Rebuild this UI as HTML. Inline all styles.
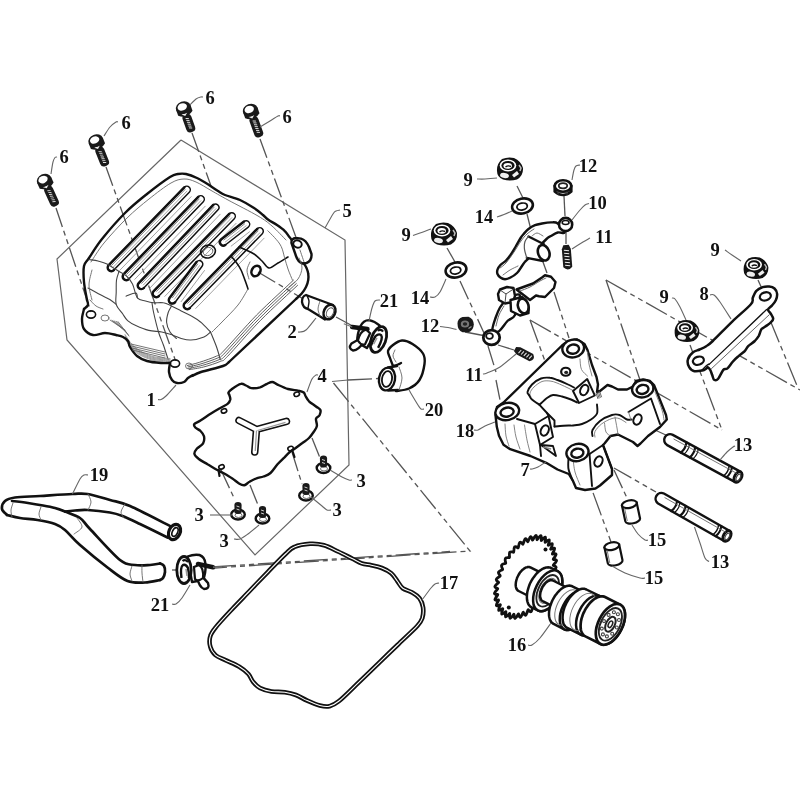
<!DOCTYPE html>
<html><head><meta charset="utf-8"><style>
*{margin:0;padding:0}
body{background:#fff;width:800px;height:800px;overflow:hidden}
svg{display:block}
.k{fill:none;stroke:#111;stroke-width:1.6;stroke-linejoin:round;stroke-linecap:round}
.kt{fill:none;stroke:#111;stroke-width:2.4;stroke-linejoin:round;stroke-linecap:round}
.kf{fill:#fff;stroke:#111;stroke-width:2.2;stroke-linejoin:round}
.kw{fill:#fff;stroke:#333;stroke-width:1}
.fin{fill:#fff;stroke:#111;stroke-width:1.5;stroke-linejoin:round}
.th{stroke:#111;stroke-width:1.3}
.g{fill:none;stroke:#666;stroke-width:0.9;stroke-linecap:round}
.hx{fill:none;stroke:#666;stroke-width:1.2}
.d{fill:none;stroke:#555;stroke-width:1.3;stroke-dasharray:20 4 5 4 5 4}
.dd{fill:none;stroke:#555;stroke-width:1.3;stroke-dasharray:24 4 5 4 5 4}
.ld{fill:none;stroke:#666;stroke-width:1.1}
svg{will-change:transform}
text{font-family:"Liberation Serif",serif;font-size:18.5px;font-weight:bold;fill:#111;text-anchor:middle}
</style></head>
<body><svg width="800" height="800" viewBox="0 0 800 800">
<rect width="800" height="800" fill="#fff"/>
<path class="hx" d="M181.0,140.0 L345.0,240.0 L349.0,465.0 L255.0,555.0 L67.0,340.0 L57.0,259.0 L181.0,140.0" />
<line class="d" x1="56" y1="208" x2="91" y2="312"/>
<line class="d" x1="106" y1="167" x2="176" y2="362"/>
<line class="d" x1="192" y1="133" x2="211" y2="186"/>
<line class="d" x1="260" y1="139" x2="297" y2="240"/>
<line class="d" x1="258" y1="272" x2="305" y2="300"/>
<line class="d" x1="336" y1="317" x2="360" y2="330"/>
<path class="hx" d="M332,381.5 L348,380" />
<line class="dd" x1="348" y1="380" x2="378" y2="378.5"/>
<path class="dd" d="M333.5,383 L470,551 L215,568" />
<line class="d" x1="221" y1="470" x2="235" y2="500"/>
<line class="d" x1="250" y1="485" x2="258" y2="505"/>
<line class="d" x1="292" y1="452" x2="302" y2="484"/>
<line class="d" x1="312" y1="438" x2="320" y2="458"/>
<path class="dd" d="M530,320 L722,430" />
<path class="dd" d="M530,320 L611,542" />
<path class="dd" d="M606,280 L800,390" />
<path class="dd" d="M606,280 L640,380" />
<path class="dd" d="M690,345 L722,430" />
<path class="dd" d="M770,320 L798,388" />
<line class="d" x1="758" y1="280" x2="763" y2="291"/>
<line class="d" x1="460" y1="281" x2="484" y2="333"/>
<line class="d" x1="465" y1="332" x2="486" y2="336"/>
<line class="d" x1="488" y1="346" x2="496" y2="372"/>
<line class="d" x1="496" y1="380" x2="500" y2="400"/>
<line class="d" x1="517" y1="186" x2="523" y2="198"/>
<line class="d" x1="527" y1="214" x2="531" y2="230"/>
<line class="d" x1="564" y1="196" x2="565" y2="216"/>
<line class="d" x1="566" y1="228" x2="566" y2="244"/>
<line class="d" x1="554" y1="292" x2="569" y2="338"/>
<line class="d" x1="543" y1="262" x2="547" y2="273"/>
<line class="d" x1="447" y1="248" x2="455" y2="262"/>
<line class="d" x1="498" y1="345" x2="514" y2="350"/>
<line class="d" x1="614" y1="468" x2="656" y2="492"/>
<line class="d" x1="614" y1="470" x2="627" y2="498"/>
<line class="d" x1="655" y1="430" x2="668" y2="436"/>
<line class="d" x1="172" y1="570" x2="182" y2="570"/>
<path class="dd" d="M212,567 L450,551.5" />
<path class="g" d="M91.0,262.0 C93.2,258.8 98.0,250.3 104.0,243.0 C110.0,235.7 119.5,225.3 127.0,218.0 C134.5,210.7 141.7,204.8 149.0,199.0 C156.3,193.2 165.2,186.3 171.0,183.0 C176.8,179.7 179.8,179.2 184.0,179.0 C188.2,178.8 191.3,180.0 196.0,182.0 C200.7,184.0 206.7,188.0 212.0,191.0 C217.3,194.0 220.3,195.8 228.0,200.0 C235.7,204.2 250.7,211.7 258.0,216.0 C265.3,220.3 267.3,222.0 272.0,226.0 C276.7,230.0 283.7,237.7 286.0,240.0" />
<path class="fin" d="M108.7,265.2 L184.3,187.3 A3.5,3.5 0 0 1 189.3,192.2 L113.8,270.1 A3.5,3.5 0 0 1 108.7,265.2 Z" />
<path class="kt" d="M113.8,270.1 A3.5,3.5 0 0 1 108.7,265.2 L184.3,187.3" style="stroke-width:2.5"/>
<path class="g" d="M111.7,265.3 L185.1,189.5" style="stroke:#777"/>
<path class="g" d="M113.4,267.0 L186.9,191.2" style="stroke:#999"/>
<path class="g" d="M119.8,270.3 L191.1,196.7" style="stroke:#999"/>
<path class="fin" d="M123.7,274.2 L198.3,196.8 A3.5,3.5 0 0 1 203.3,201.7 L128.8,279.1 A3.5,3.5 0 0 1 123.7,274.2 Z" />
<path class="kt" d="M128.8,279.1 A3.5,3.5 0 0 1 123.7,274.2 L198.3,196.8" style="stroke-width:2.5"/>
<path class="g" d="M126.7,274.3 L199.2,199.0" style="stroke:#777"/>
<path class="g" d="M128.4,275.9 L200.9,200.7" style="stroke:#999"/>
<path class="g" d="M134.8,279.3 L205.2,206.2" style="stroke:#999"/>
<path class="fin" d="M138.7,283.2 L213.3,204.8 A3.5,3.5 0 0 1 218.3,209.6 L143.8,288.0 A3.5,3.5 0 0 1 138.7,283.2 Z" />
<path class="kt" d="M143.8,288.0 A3.5,3.5 0 0 1 138.7,283.2 L213.3,204.8" style="stroke-width:2.5"/>
<path class="g" d="M141.7,283.3 L214.2,207.1" style="stroke:#777"/>
<path class="g" d="M143.4,284.9 L215.9,208.7" style="stroke:#999"/>
<path class="g" d="M149.8,288.2 L220.2,214.2" style="stroke:#999"/>
<path class="fin" d="M153.7,291.2 L229.3,213.8 A3.5,3.5 0 0 1 234.3,218.7 L158.8,296.1 A3.5,3.5 0 0 1 153.7,291.2 Z" />
<path class="kt" d="M158.8,296.1 A3.5,3.5 0 0 1 153.7,291.2 L229.3,213.8" style="stroke-width:2.5"/>
<path class="g" d="M156.7,291.3 L230.1,216.0" style="stroke:#777"/>
<path class="g" d="M158.4,293.0 L231.8,217.7" style="stroke:#999"/>
<path class="g" d="M164.8,296.4 L236.1,223.3" style="stroke:#999"/>
<path class="fin" d="M221.0,239.5 L244.0,221.5 A3.5,3.5 0 0 1 248.3,227.1 L225.3,245.0 A3.5,3.5 0 0 1 221.0,239.5 Z" />
<path class="kt" d="M225.3,245.0 A3.5,3.5 0 0 1 221.0,239.5 L244.0,221.5" style="stroke-width:2.5"/>
<path class="g" d="M223.9,240.0 L244.6,223.9" style="stroke:#777"/>
<path class="g" d="M225.4,241.9 L246.1,225.8" style="stroke:#999"/>
<path class="g" d="M231.2,246.1 L249.5,231.8" style="stroke:#999"/>
<path class="fin" d="M169.5,298.0 L196.5,262.0 A3.5,3.5 0 0 1 202.1,266.2 L175.1,302.2 A3.5,3.5 0 0 1 169.5,298.0 Z" />
<path class="kt" d="M175.1,302.2 A3.5,3.5 0 0 1 169.5,298.0 L196.5,262.0" style="stroke-width:2.5"/>
<path class="g" d="M172.5,297.7 L197.7,264.1" style="stroke:#777"/>
<path class="g" d="M174.4,299.2 L199.6,265.6" style="stroke:#999"/>
<path class="g" d="M181.1,301.7 L204.5,270.5" style="stroke:#999"/>
<path class="fin" d="M184.7,303.2 L257.3,228.8 A3.5,3.5 0 0 1 262.3,233.7 L189.8,308.1 A3.5,3.5 0 0 1 184.7,303.2 Z" />
<path class="kt" d="M189.8,308.1 A3.5,3.5 0 0 1 184.7,303.2 L257.3,228.8" style="stroke-width:2.5"/>
<path class="g" d="M187.7,303.3 L258.1,231.0" style="stroke:#777"/>
<path class="g" d="M189.4,305.0 L259.9,232.7" style="stroke:#999"/>
<path class="g" d="M195.8,308.4 L264.1,238.2" style="stroke:#999"/>
<ellipse class="k" cx="208" cy="251.5" rx="7.5" ry="6.3" transform="rotate(-20 208 251.5)"/>
<ellipse class="g" cx="208" cy="251.5" rx="5" ry="4" transform="rotate(-20 208 251.5)"/>
<path class="k" d="M239.0,247.0 C241.5,248.2 250.2,251.7 254.0,254.0 C257.8,256.3 259.5,258.7 262.0,261.0 C264.5,263.3 266.3,267.7 269.0,268.0 C271.7,268.3 274.8,264.8 278.0,263.0 C281.2,261.2 286.3,258.0 288.0,257.0" />
<path class="k" d="M231.0,256.0 C231.8,257.0 234.3,259.7 236.0,262.0 C237.7,264.3 239.3,266.5 241.0,270.0 C242.7,273.5 244.8,279.8 246.0,283.0 C247.2,286.2 247.7,288.0 248.0,289.0" />
<path class="g" d="M248.0,289.0 C246.3,291.7 242.3,299.5 238.0,305.0 C233.7,310.5 226.3,317.5 222.0,322.0 C217.7,326.5 213.7,330.3 212.0,332.0" />
<ellipse class="kt" cx="256" cy="271" rx="4.2" ry="5.5" transform="rotate(30 256 271)" style="stroke-width:2.6"/>
<path class="g" d="M250.0,262.0 C249.5,263.3 247.2,267.2 247.0,270.0 C246.8,272.8 248.7,277.5 249.0,279.0" />
<path class="kt" d="M87.0,300.0 C86.5,297.0 84.5,287.7 84.0,282.0 C83.5,276.3 83.2,270.0 84.0,266.0 C84.8,262.0 86.0,262.5 89.0,258.0 C92.0,253.5 96.0,246.5 102.0,239.0 C108.0,231.5 117.5,220.5 125.0,213.0 C132.5,205.5 139.5,200.0 147.0,194.0 C154.5,188.0 164.8,180.3 170.0,177.0 C175.2,173.7 175.3,174.5 178.0,174.0 C180.7,173.5 182.8,173.3 186.0,174.0 C189.2,174.7 193.2,176.2 197.0,178.0 C200.8,179.8 205.5,182.8 209.0,185.0 C212.5,187.2 215.3,189.3 218.0,191.0 C220.7,192.7 221.3,193.5 225.0,195.0 C228.7,196.5 235.2,197.8 240.0,200.0 C244.8,202.2 250.2,205.5 254.0,208.0 C257.8,210.5 260.7,213.1 263.0,215.0 C265.3,216.9 265.7,217.8 268.0,219.5 C270.3,221.2 274.2,223.1 277.0,225.0 C279.8,226.9 282.6,228.8 284.6,230.8 C286.6,232.7 287.7,234.7 289.0,236.4 C290.3,238.1 291.9,240.2 292.5,241.0" />
<path d="M291.5,243 Q291,238.5 296,238 L301,238.6 Q306,240 309,247 L311.5,254 Q312,261 306.5,263 L302.5,263.5 Q298,262 296,256 Z" fill="#fff" stroke="#111" stroke-width="2.4" stroke-linejoin="round"/>
<ellipse cx="297.5" cy="244" rx="4.3" ry="3.6" transform="rotate(20 297.5 244)" fill="#fff" stroke="#111" stroke-width="2"/>
<path class="g" d="M300.0,250.0 C300.3,251.0 301.3,254.0 302.0,256.0 C302.7,258.0 303.7,261.0 304.0,262.0" />
<path class="kt" d="M303.8,263.4 C304.2,264.2 305.8,266.3 306.5,268.0 C307.2,269.7 308.0,271.5 308.2,273.5 C308.5,275.5 308.6,278.0 308.2,280.2 C307.9,282.5 307.1,284.8 306.0,287.0 C304.9,289.2 303.2,291.8 301.5,293.8 C299.8,295.8 296.9,298.1 296.0,299.0" />
<path class="kt" d="M296,299 L229,362" />
<path class="kt" d="M229.0,362.0 C228.0,362.7 227.7,364.3 223.0,366.0 C218.3,367.7 206.2,370.3 201.0,372.0 C195.8,373.7 193.5,375.3 192.0,376.0" />
<path class="g" d="M297.6,285.3 C291.5,291.1 272.3,308.5 260.6,320.3 C249.0,332.1 234.3,349.5 227.6,356.3 C221.0,363.1 224.6,359.5 220.6,361.3 C216.6,363.1 208.9,365.6 203.6,367.0 C198.4,368.3 191.7,369.2 189.3,369.6" style="stroke:#555;stroke-width:0.95"/>
<path class="g" d="M296.3,283.6 C290.1,289.4 270.9,306.7 259.3,318.6 C247.6,330.4 232.9,347.7 226.3,354.6 C219.6,361.4 223.3,357.8 219.3,359.6 C215.3,361.4 207.4,364.0 202.3,365.4 C197.2,366.9 190.9,367.8 188.6,368.3" style="stroke:#555;stroke-width:0.95"/>
<path class="g" d="M294.9,281.9 C288.7,287.7 269.6,305.0 257.9,316.9 C246.2,328.7 231.6,346.0 224.9,352.9 C218.2,359.7 221.9,356.0 217.9,357.9 C213.9,359.7 205.9,362.4 200.9,363.9 C195.9,365.4 190.1,366.4 188.0,366.9" style="stroke:#555;stroke-width:0.95"/>
<path class="g" d="M293.5,280.1 C287.4,286.0 268.2,303.3 256.5,315.1 C244.9,327.0 230.2,344.3 223.5,351.1 C216.9,358.0 220.5,354.3 216.5,356.1 C212.5,358.0 204.4,360.8 199.5,362.3 C194.7,363.9 189.3,365.0 187.3,365.5" style="stroke:#555;stroke-width:0.95"/>
<path class="g" d="M289.0,287.0 C290.5,285.7 295.8,282.2 298.0,279.0 C300.2,275.8 301.8,271.5 302.0,268.0 C302.2,264.5 299.5,259.7 299.0,258.0" />
<path class="g" d="M267.8,230.8 C268.9,231.9 272.2,234.9 274.5,237.5 C276.8,240.1 279.6,243.1 281.2,246.5 C282.9,249.9 283.5,254.0 284.6,257.8 C285.7,261.5 286.7,265.2 288.0,269.0 C289.3,272.8 291.8,278.4 292.5,280.2" />
<path class="g" d="M89.0,259.5 C90.5,259.8 95.0,260.2 98.0,261.0 C101.0,261.8 103.5,262.2 107.0,264.0 C110.5,265.8 115.8,269.5 119.0,271.5 C122.2,273.5 124.2,273.9 126.5,276.0 C128.8,278.1 130.7,280.4 132.5,284.0 C134.3,287.6 135.2,295.1 137.4,297.9 C139.6,300.7 142.8,300.2 145.5,301.0 C148.2,301.8 150.6,302.5 153.6,302.8 C156.6,303.0 160.4,302.2 163.4,302.8 C166.4,303.3 168.5,304.6 171.5,306.0 C174.5,307.4 178.0,309.3 181.2,310.9 C184.5,312.5 187.8,313.9 191.0,315.8 C194.2,317.6 197.5,319.5 200.8,322.2 C204.0,325.0 208.9,330.4 210.5,332.0" style="stroke:#444;stroke-width:1.1"/>
<path class="g" d="M119.0,271.5 C118.6,272.9 117.0,276.6 116.5,280.0 C116.0,283.4 116.3,287.9 116.2,292.0 C116.2,296.1 115.2,300.7 116.2,304.4 C117.3,308.1 120.9,311.3 122.8,314.0 C124.6,316.7 125.4,318.7 127.6,320.6 C129.8,322.5 132.2,323.9 135.8,325.5 C139.3,327.1 144.4,329.3 148.8,330.4 C153.1,331.5 157.7,331.2 161.8,332.0 C165.8,332.8 169.8,334.2 173.0,335.2 C176.2,336.3 178.2,337.7 181.2,338.5 C184.2,339.3 187.2,340.3 191.0,340.0 C194.8,339.7 200.8,338.2 204.0,336.9 C207.2,335.6 209.4,332.8 210.5,332.0" style="stroke:#444;stroke-width:1.1"/>
<path class="g" d="M88.0,288.0 C90.0,289.1 96.4,292.7 100.0,294.6 C103.6,296.5 107.0,297.9 109.8,299.5 C112.5,301.1 115.2,303.6 116.2,304.4" style="stroke:#444;stroke-width:1.1"/>
<path class="g" d="M126.0,296.2 C127.6,295.7 133.8,292.7 135.8,293.0 C137.7,293.3 137.1,297.1 137.4,297.9" style="stroke:#444;stroke-width:1.1"/>
<path class="g" d="M152.0,302.8 C152.3,304.4 152.5,307.6 153.6,312.5 C154.7,317.4 156.9,326.6 158.5,332.0 C160.1,337.4 161.8,340.4 163.4,345.0 C165.0,349.6 167.4,357.2 168.2,359.6" style="stroke:#444;stroke-width:1.1"/>
<path class="g" d="M171.5,306.0 C171.0,307.1 169.1,309.8 168.2,312.5 C167.4,315.2 166.3,319.0 166.6,322.2 C166.9,325.5 168.4,329.3 170.0,332.0 C171.6,334.7 175.3,337.4 176.4,338.5" style="stroke:#444;stroke-width:1.1"/>
<path class="g" d="M210.5,332.0 C211.6,334.7 215.4,343.6 217.0,348.2 C218.6,352.9 219.7,357.7 220.2,359.6" style="stroke:#444;stroke-width:1.1"/>
<path class="g" d="M92.0,270.0 C91.5,272.5 89.0,280.0 89.0,285.0 C89.0,290.0 91.5,297.5 92.0,300.0" />
<path class="g" d="M90.0,300.0 C91.0,301.0 93.8,304.5 96.0,306.0 C98.2,307.5 101.8,308.5 103.0,309.0" />
<path class="g" d="M125.0,334.5 C126.2,336.2 129.5,342.0 132.5,345.0 C135.5,348.0 139.2,350.5 143.0,352.5 C146.8,354.5 150.5,356.0 155.0,357.0 C159.5,358.0 167.5,358.2 170.0,358.5" style="stroke:#888;stroke-width:0.8"/>
<path class="g" d="M125.3,336.0 C126.5,337.7 129.6,343.3 132.5,346.2 C135.4,349.1 139.2,351.6 143.0,353.5 C146.8,355.4 150.5,356.9 155.0,357.9 C159.5,358.9 167.5,359.1 170.0,359.3" style="stroke:#888;stroke-width:0.8"/>
<path class="g" d="M125.6,337.5 C126.8,339.1 129.6,344.6 132.5,347.4 C135.4,350.2 139.2,352.6 143.0,354.5 C146.8,356.4 150.5,357.9 155.0,358.8 C159.5,359.7 167.5,359.9 170.0,360.1" style="stroke:#888;stroke-width:0.8"/>
<path class="g" d="M125.9,339.0 C127.0,340.6 129.7,345.9 132.5,348.6 C135.3,351.4 139.2,353.6 143.0,355.5 C146.8,357.4 150.5,358.8 155.0,359.7 C159.5,360.6 167.5,360.7 170.0,360.9" style="stroke:#888;stroke-width:0.8"/>
<path class="g" d="M126.2,340.5 C127.2,342.1 129.7,347.1 132.5,349.8 C135.3,352.5 139.2,354.7 143.0,356.5 C146.8,358.3 150.5,359.7 155.0,360.6 C159.5,361.5 167.5,361.5 170.0,361.7" style="stroke:#888;stroke-width:0.8"/>
<path class="kt" d="M87.0,300.0 C87.2,300.8 88.5,303.5 88.0,305.0 C87.5,306.5 84.7,308.3 84.0,309.0" />
<path class="kt" d="M84.0,309.0 C83.7,310.7 82.0,315.7 82.0,319.0 C82.0,322.3 82.2,326.3 84.0,329.0 C85.8,331.7 89.5,334.3 93.0,335.0 C96.5,335.7 101.2,333.0 105.0,333.0 C108.8,333.0 113.0,334.3 116.0,335.0 C119.0,335.7 121.0,336.0 123.0,337.0 C125.0,338.0 126.8,339.3 128.0,341.0 C129.2,342.7 128.5,344.5 130.0,347.0 C131.5,349.5 134.2,353.7 137.0,356.0 C139.8,358.3 143.0,359.8 147.0,361.0 C151.0,362.2 157.2,362.7 161.0,363.0 C164.8,363.3 168.5,363.0 170.0,363.0" />
<path class="kt" d="M170.0,363.0 C169.8,364.5 168.7,369.2 169.0,372.0 C169.3,374.8 170.7,378.2 172.0,380.0 C173.3,381.8 175.0,382.7 177.0,383.0 C179.0,383.3 182.2,382.8 184.0,382.0 C185.8,381.2 186.5,379.2 188.0,378.0 C189.5,376.8 192.2,375.5 193.0,375.0" />
<ellipse class="k" cx="91" cy="314.5" rx="4.6" ry="3.6"/>
<ellipse class="k" cx="175" cy="363.5" rx="4.6" ry="3.6"/>
<ellipse class="g" cx="105" cy="318" rx="4" ry="3"/>
<ellipse class="g" cx="189" cy="366" rx="3.5" ry="3"/>
<path class="g" d="M110,320.0 L125,330.0" />
<path class="g" d="M112,320.4 L126,331.5" />
<path class="g" d="M114,320.8 L127,333.0" />
<path class="g" d="M116,321.2 L128,334.5" />
<path class="g" d="M118,321.6 L129,336.0" />
<path class="g" d="M131.0,344 L165,352" />
<path class="g" d="M131.5,346 L165,354" />
<path class="g" d="M132.0,348 L165,356" />
<path class="g" d="M132.5,350 L165,358" />
<path d="M306,295 Q302,296 302,302 Q303,308 308,309 L325,319.5 L333,305 Z" fill="#fff" stroke="#111" stroke-width="2.3" stroke-linejoin="round"/>
<path class="k" d="M307.0,295.5 C307.3,296.4 308.8,298.9 309.0,301.0 C309.2,303.1 308.2,306.8 308.0,308.0" style="stroke-width:1.4"/>
<path class="g" d="M320.0,301.0 C319.7,302.3 318.0,306.5 318.0,309.0 C318.0,311.5 319.7,314.8 320.0,316.0" />
<ellipse cx="329.5" cy="312" rx="5.6" ry="7.6" transform="rotate(25 329.5 312)" fill="#fff" stroke="#111" stroke-width="2.5"/>
<ellipse cx="330" cy="312.5" rx="3.3" ry="5" transform="rotate(25 330 312.5)" fill="none" stroke="#555" stroke-width="1"/>
<g transform="translate(378.5,339.5) rotate(20) scale(-1,1)">
<path d="M3.5,-13.5 Q10,-16 15.5,-15 Q21,-13 21.5,-6 Q22,3 19,10 L8,12 Z" fill="#fff" stroke="#111" stroke-width="2.4" stroke-linejoin="round"/>
<path d="M14,-6 L29,-2.8" stroke="#111" stroke-width="4.6" stroke-linecap="round"/>
<path d="M29,-2.8 L38,-3" stroke="#777" stroke-width="1.2"/>
<path d="M13,7 Q15,17 20,19 Q26,19 24,13 Q20,8 16,5 Z" fill="#fff" stroke="#111" stroke-width="2.4" stroke-linejoin="round"/>
<path d="M15,-5 Q20,-2 19,8 Q14,12 11,9 L10,-3 Z" fill="#fff" stroke="#111" stroke-width="2.2"/>
<ellipse cx="0" cy="0" rx="7.2" ry="13.5" fill="#fff" stroke="#111" stroke-width="2.8"/>
<path d="M-2.5,8 Q-4,-3 -1,-5 Q2,-6 4,-2 Q5,2 5,8" fill="none" stroke="#111" stroke-width="2.4"/>
<path d="M-1.5,-9 Q1,-11 4,-8" fill="none" stroke="#111" stroke-width="2.2"/>
<path d="M2,-1 L3,6" stroke="#999" stroke-width="1.5"/>
</g>
<path class="kt" d="M393.0,366.0 C392.5,364.7 390.8,360.5 390.0,358.0 C389.2,355.5 387.5,353.2 388.0,351.0 C388.5,348.8 390.7,346.8 393.0,345.0 C395.3,343.2 398.8,340.7 402.0,340.5 C405.2,340.3 409.0,341.8 412.5,344.0 C416.0,346.2 421.0,350.2 423.0,353.5 C425.0,356.8 425.1,359.6 424.5,364.0 C423.9,368.4 422.1,375.9 419.5,380.0 C416.9,384.1 412.9,386.7 409.0,388.5 C405.1,390.3 398.2,390.6 396.0,391.0" />
<path class="kt" d="M393.0,366.0 C393.8,365.8 396.7,365.0 398.0,364.5 C399.3,364.0 400.5,363.2 401.0,363.0" />
<path class="g" d="M396.0,362.0 C395.5,361.0 393.2,358.0 393.0,356.0 C392.8,354.0 394.7,351.0 395.0,350.0" />
<ellipse cx="387" cy="379" rx="8" ry="11.5" transform="rotate(10 387 379)" fill="#fff" stroke="#111" stroke-width="2.4"/>
<ellipse cx="387" cy="379" rx="5" ry="8" transform="rotate(10 387 379)" fill="#fff" stroke="#111" stroke-width="1.8"/>
<path class="kt" d="M388,367.5 L397,366" />
<path class="kt" d="M388,390.5 L398,390" />
<path class="g" d="M399.0,367.0 C399.5,368.8 402.0,374.2 402.0,378.0 C402.0,381.8 399.5,388.0 399.0,390.0" />
<path class="kt" d="M228.5,392.5 C228.9,391.5 230.0,390.5 232.0,389.0 C234.0,387.5 238.4,384.3 240.8,383.8 C243.1,383.2 244.3,384.8 246.0,385.5 C247.8,386.2 248.9,387.8 251.3,388.1 C253.6,388.4 257.4,388.0 260.0,387.3 C262.6,386.5 265.0,384.6 267.0,383.8 C269.0,382.9 270.5,381.9 272.3,382.0 C274.0,382.1 274.9,383.5 277.5,384.6 C280.1,385.8 284.5,388.0 288.0,389.0 C291.5,390.0 295.9,390.2 298.5,390.8 C301.1,391.3 302.6,391.6 303.8,392.5 C304.9,393.4 304.6,394.5 305.5,396.0 C306.4,397.5 307.3,399.5 309.0,401.3 C310.8,403.0 314.1,405.0 316.0,406.5 C317.9,408.0 319.8,408.5 320.4,410.0 C321.0,411.5 320.2,413.8 319.5,415.3 C318.8,416.7 316.4,417.0 316.0,418.8 C315.6,420.5 317.2,423.7 316.9,425.8 C316.6,427.8 315.6,429.0 314.3,431.0 C312.9,433.0 311.0,436.0 309.0,438.0 C307.0,440.0 304.3,441.5 302.0,443.3 C299.7,445.0 297.0,447.0 295.0,448.5 C293.0,450.0 291.5,450.5 289.8,452.0 C288.0,453.5 286.5,455.2 284.5,457.3 C282.5,459.3 279.8,461.6 277.5,464.3 C275.2,466.9 272.8,471.0 270.5,473.0 C268.2,475.0 265.8,475.6 263.5,476.5 C261.2,477.4 258.8,477.4 256.5,478.3 C254.2,479.1 251.5,480.6 249.5,481.8 C247.5,482.9 246.0,485.0 244.3,485.3 C242.5,485.5 241.0,484.7 239.0,483.5 C237.0,482.3 234.6,480.0 232.0,478.3 C229.4,476.5 225.9,474.5 223.3,473.0 C220.6,471.5 218.9,471.0 216.3,469.5 C213.6,468.0 210.4,466.0 207.5,464.3 C204.6,462.5 200.9,460.8 198.8,459.0 C196.6,457.3 194.7,455.5 194.4,453.8 C194.1,452.0 195.5,450.3 197.0,448.5 C198.5,446.8 202.0,445.3 203.1,443.3 C204.3,441.2 204.4,438.3 204.0,436.3 C203.6,434.2 202.0,432.5 200.5,431.0 C199.0,429.5 196.3,428.7 195.3,427.5 C194.2,426.3 193.5,425.2 194.4,424.0 C195.3,422.8 197.7,422.3 200.5,420.5 C203.3,418.8 207.8,415.5 211.0,413.5 C214.2,411.5 217.0,409.9 219.8,408.3 C222.5,406.6 225.9,405.3 227.6,403.9 C229.4,402.4 230.0,401.0 230.3,399.5 C230.5,398.0 229.7,396.3 229.4,395.1 C229.1,394.0 228.1,393.5 228.5,392.5 Z" style="stroke-width:2.4"/>
<path d="M256.5,429.5 L239,420.5 M256.5,429.5 L286.5,421.4 M256.5,429.5 L254.75,452 " stroke="#111" stroke-width="7.5" stroke-linecap="round" fill="none"/>
<path d="M256.5,429.5 L239,420.5 M256.5,429.5 L286.5,421.4 M256.5,429.5 L254.75,452 " stroke="#fff" stroke-width="4.3" stroke-linecap="round" fill="none"/>
<path d="M257.5,430.5 L285.5,422.4 M256.5,430.5 L255.25,451" stroke="#999" stroke-width="1.2" fill="none"/>
<ellipse class="k" cx="224" cy="410.9" rx="2.8" ry="2.1" transform="rotate(-20 224 410.9)"/>
<ellipse class="k" cx="296.75" cy="394.25" rx="2.8" ry="2.1" transform="rotate(-20 296.75 394.25)"/>
<ellipse class="k" cx="221.5" cy="466.9" rx="2.8" ry="2.1" transform="rotate(-20 221.5 466.9)"/>
<ellipse class="k" cx="290.6" cy="448.5" rx="2.8" ry="2.1" transform="rotate(-20 290.6 448.5)"/>
<path class="k" d="M292.5,451 L294.5,457" style="stroke-width:2.2"/>
<path class="k" d="M218.5,470 L219.5,476" style="stroke-width:2.2"/>
<g transform="translate(238,513)">
<ellipse cx="0" cy="1.5" rx="6.8" ry="5" fill="#fff" stroke="#111" stroke-width="2.4"/>
<ellipse cx="0.5" cy="2.3" rx="3.5" ry="2.2" fill="none" stroke="#666" stroke-width="1"/>
<path d="M-3.6,-8 Q-3.6,-11 0,-11 Q3.6,-11 3.6,-8 L3.4,0 Q0,2 -3.4,0 Z" fill="#1a1a1a"/>
<path d="M-1.5,-7 L1.5,-6 M-1.5,-4 L1.5,-3" stroke="#ccc" stroke-width="1"/>
</g>
<g transform="translate(262.5,517)">
<ellipse cx="0" cy="1.5" rx="6.8" ry="5" fill="#fff" stroke="#111" stroke-width="2.4"/>
<ellipse cx="0.5" cy="2.3" rx="3.5" ry="2.2" fill="none" stroke="#666" stroke-width="1"/>
<path d="M-3.6,-8 Q-3.6,-11 0,-11 Q3.6,-11 3.6,-8 L3.4,0 Q0,2 -3.4,0 Z" fill="#1a1a1a"/>
<path d="M-1.5,-7 L1.5,-6 M-1.5,-4 L1.5,-3" stroke="#ccc" stroke-width="1"/>
</g>
<g transform="translate(306,494)">
<ellipse cx="0" cy="1.5" rx="6.8" ry="5" fill="#fff" stroke="#111" stroke-width="2.4"/>
<ellipse cx="0.5" cy="2.3" rx="3.5" ry="2.2" fill="none" stroke="#666" stroke-width="1"/>
<path d="M-3.6,-8 Q-3.6,-11 0,-11 Q3.6,-11 3.6,-8 L3.4,0 Q0,2 -3.4,0 Z" fill="#1a1a1a"/>
<path d="M-1.5,-7 L1.5,-6 M-1.5,-4 L1.5,-3" stroke="#ccc" stroke-width="1"/>
</g>
<g transform="translate(323.5,466.5)">
<ellipse cx="0" cy="1.5" rx="6.8" ry="5" fill="#fff" stroke="#111" stroke-width="2.4"/>
<ellipse cx="0.5" cy="2.3" rx="3.5" ry="2.2" fill="none" stroke="#666" stroke-width="1"/>
<path d="M-3.6,-8 Q-3.6,-11 0,-11 Q3.6,-11 3.6,-8 L3.4,0 Q0,2 -3.4,0 Z" fill="#1a1a1a"/>
<path d="M-1.5,-7 L1.5,-6 M-1.5,-4 L1.5,-3" stroke="#ccc" stroke-width="1"/>
</g>
<path class="kt" d="M7.0,515.0 C6.2,514.0 2.3,511.3 2.0,509.0 C1.7,506.7 2.8,502.9 5.0,501.0 C7.2,499.1 9.2,498.3 15.0,497.5 C20.8,496.7 30.4,496.6 40.0,496.0 C49.6,495.4 64.6,494.3 72.5,494.0 C80.4,493.7 81.2,493.0 87.5,494.0 C93.8,495.0 102.9,498.0 110.0,500.0 C117.1,502.0 119.7,501.5 130.0,506.0 C140.3,510.5 165.0,523.5 172.0,527.0" style="stroke-width:2.7"/>
<path class="kt" d="M167.5,537.5 C162.9,535.2 147.5,527.6 140.0,524.0 C132.5,520.4 127.5,517.9 122.5,516.0 C117.5,514.1 115.8,513.5 110.0,512.5 C104.2,511.5 93.3,510.3 87.5,510.0 C81.7,509.7 78.8,510.2 75.0,510.5 C71.2,510.8 66.7,511.3 65.0,511.5" style="stroke-width:2.7"/>
<path class="kt" d="M12.0,501.0 C14.7,501.3 22.8,502.2 28.0,503.0 C33.2,503.8 38.5,504.7 43.0,505.5 C47.5,506.3 51.3,507.0 55.0,508.0 C58.7,509.0 60.8,509.8 65.0,511.5 C69.2,513.2 75.8,515.1 80.0,518.0 C84.2,520.9 83.3,522.0 90.0,529.0 C96.7,536.0 112.5,554.0 120.0,560.0 C127.5,566.0 130.0,564.2 135.0,565.0 C140.0,565.8 145.8,565.2 150.0,565.0 C154.2,564.8 158.3,563.8 160.0,563.5" style="stroke-width:2.7"/>
<path class="kt" d="M7.0,515.0 C9.2,515.5 14.9,517.2 20.0,518.0 C25.1,518.8 31.7,519.0 37.5,520.0 C43.3,521.0 50.4,522.3 55.0,524.0 C59.6,525.7 60.8,526.5 65.0,530.0 C69.2,533.5 72.9,538.8 80.0,545.0 C87.1,551.2 99.6,561.5 107.5,567.5 C115.4,573.5 121.2,578.5 127.5,581.0 C133.8,583.5 139.6,582.7 145.0,582.5 C150.4,582.3 157.5,580.4 160.0,580.0" style="stroke-width:2.7"/>
<ellipse cx="174.5" cy="532" rx="5.6" ry="8" transform="rotate(25 174.5 532)" fill="#fff" stroke="#111" stroke-width="3.2"/>
<ellipse cx="175" cy="532" rx="2.6" ry="4.6" transform="rotate(25 175 532)" fill="none" stroke="#111" stroke-width="1.6"/>
<path class="kt" d="M160.0,563.5 C160.7,563.9 163.2,564.6 164.0,566.0 C164.8,567.4 165.2,570.0 165.0,572.0 C164.8,574.0 163.8,576.7 163.0,578.0 C162.2,579.3 160.5,579.7 160.0,580.0" style="stroke-width:2.7"/>
<path class="g" d="M13.0,503.0 C12.7,504.2 11.2,507.7 11.0,510.0 C10.8,512.3 11.8,515.8 12.0,517.0" />
<path class="g" d="M41.0,507.0 C40.7,508.2 39.0,511.8 39.0,514.0 C39.0,516.2 40.7,519.0 41.0,520.0" />
<path class="g" d="M88.0,494.0 C88.5,495.3 91.0,499.3 91.0,502.0 C91.0,504.7 88.5,508.7 88.0,510.0" />
<path class="g" d="M125.0,504.0 C124.3,505.3 121.2,509.7 121.0,512.0 C120.8,514.3 123.5,517.0 124.0,518.0" />
<path class="g" d="M77.0,518.0 C77.8,519.5 82.5,524.3 82.0,527.0 C81.5,529.7 75.3,532.8 74.0,534.0" />
<path class="g" d="M132.0,566.0 C131.7,567.3 130.0,571.5 130.0,574.0 C130.0,576.5 131.7,579.8 132.0,581.0" />
<path class="g" d="M142.0,565.0 C142.0,566.3 141.8,570.2 142.0,573.0 C142.2,575.8 142.8,580.5 143.0,582.0" />
<g transform="translate(184,570) rotate(0) scale(1,1)">
<path d="M3.5,-13.5 Q10,-16 15.5,-15 Q21,-13 21.5,-6 Q22,3 19,10 L8,12 Z" fill="#fff" stroke="#111" stroke-width="2.4" stroke-linejoin="round"/>
<path d="M14,-6 L29,-2.8" stroke="#111" stroke-width="4.6" stroke-linecap="round"/>
<path d="M29,-2.8 L38,-3" stroke="#777" stroke-width="1.2"/>
<path d="M13,7 Q15,17 20,19 Q26,19 24,13 Q20,8 16,5 Z" fill="#fff" stroke="#111" stroke-width="2.4" stroke-linejoin="round"/>
<path d="M15,-5 Q20,-2 19,8 Q14,12 11,9 L10,-3 Z" fill="#fff" stroke="#111" stroke-width="2.2"/>
<ellipse cx="0" cy="0" rx="7.2" ry="13.5" fill="#fff" stroke="#111" stroke-width="2.8"/>
<path d="M-2.5,8 Q-4,-3 -1,-5 Q2,-6 4,-2 Q5,2 5,8" fill="none" stroke="#111" stroke-width="2.4"/>
<path d="M-1.5,-9 Q1,-11 4,-8" fill="none" stroke="#111" stroke-width="2.2"/>
<path d="M2,-1 L3,6" stroke="#999" stroke-width="1.5"/>
</g>
<path d="M285.5,554.0 C289.9,549.8 290.2,548.6 294.3,547.0 C298.3,545.3 305.0,544.1 310.0,543.8 C315.0,543.5 319.3,543.9 324.0,545.2 C328.7,546.5 333.3,549.3 338.0,551.5 C342.7,553.7 348.0,556.5 352.0,558.5 C356.0,560.5 358.6,562.3 361.8,563.4 C365.0,564.5 367.9,564.4 371.3,565.2 C374.6,565.9 378.4,566.6 381.8,568.0 C385.1,569.3 388.6,571.0 391.2,573.2 C393.8,575.4 395.6,578.7 397.5,581.3 C399.4,583.8 400.3,586.4 402.8,588.3 C405.2,590.1 409.4,590.8 412.2,592.5 C415.0,594.1 417.8,595.9 419.6,598.4 C421.4,600.9 422.6,604.3 423.1,607.5 C423.5,610.7 423.3,614.6 422.4,617.7 C421.4,620.7 421.6,621.2 417.5,625.7 C413.3,630.3 403.8,638.9 397.5,645.0 C391.3,651.0 386.4,655.6 380.0,661.8 C373.6,667.9 365.9,675.5 359.0,682.1 C352.1,688.7 343.7,697.3 338.7,701.3 C333.7,705.3 332.4,705.5 329.3,706.2 C326.1,706.9 323.5,706.4 319.8,705.5 C316.1,704.6 311.2,702.4 307.2,700.6 C303.2,698.9 299.7,696.4 296.0,695.0 C292.3,693.6 288.9,692.8 284.8,692.2 C280.7,691.6 275.6,692.2 271.5,691.5 C267.4,690.8 263.0,689.6 260.0,688.0 C256.9,686.4 254.9,684.0 253.0,681.7 C251.0,679.4 250.7,676.5 248.4,674.0 C246.1,671.5 243.0,668.9 239.3,666.7 C235.6,664.4 230.0,662.3 226.0,660.4 C222.0,658.4 218.1,657.4 215.5,655.1 C212.9,652.8 211.1,649.9 210.3,646.7 C209.4,643.6 209.3,639.5 210.3,636.2 C211.2,632.9 212.1,631.8 215.9,627.1 C219.6,622.4 227.2,614.4 233.0,608.2 C238.8,602.0 244.7,596.1 250.5,590.0 C256.3,583.9 262.2,577.8 268.0,571.8 C273.8,565.8 281.1,558.1 285.5,554.0 Z" fill="none" stroke="#111" stroke-width="4.6" stroke-linejoin="round"/>
<path d="M285.5,554.0 C289.9,549.8 290.2,548.6 294.3,547.0 C298.3,545.3 305.0,544.1 310.0,543.8 C315.0,543.5 319.3,543.9 324.0,545.2 C328.7,546.5 333.3,549.3 338.0,551.5 C342.7,553.7 348.0,556.5 352.0,558.5 C356.0,560.5 358.6,562.3 361.8,563.4 C365.0,564.5 367.9,564.4 371.3,565.2 C374.6,565.9 378.4,566.6 381.8,568.0 C385.1,569.3 388.6,571.0 391.2,573.2 C393.8,575.4 395.6,578.7 397.5,581.3 C399.4,583.8 400.3,586.4 402.8,588.3 C405.2,590.1 409.4,590.8 412.2,592.5 C415.0,594.1 417.8,595.9 419.6,598.4 C421.4,600.9 422.6,604.3 423.1,607.5 C423.5,610.7 423.3,614.6 422.4,617.7 C421.4,620.7 421.6,621.2 417.5,625.7 C413.3,630.3 403.8,638.9 397.5,645.0 C391.3,651.0 386.4,655.6 380.0,661.8 C373.6,667.9 365.9,675.5 359.0,682.1 C352.1,688.7 343.7,697.3 338.7,701.3 C333.7,705.3 332.4,705.5 329.3,706.2 C326.1,706.9 323.5,706.4 319.8,705.5 C316.1,704.6 311.2,702.4 307.2,700.6 C303.2,698.9 299.7,696.4 296.0,695.0 C292.3,693.6 288.9,692.8 284.8,692.2 C280.7,691.6 275.6,692.2 271.5,691.5 C267.4,690.8 263.0,689.6 260.0,688.0 C256.9,686.4 254.9,684.0 253.0,681.7 C251.0,679.4 250.7,676.5 248.4,674.0 C246.1,671.5 243.0,668.9 239.3,666.7 C235.6,664.4 230.0,662.3 226.0,660.4 C222.0,658.4 218.1,657.4 215.5,655.1 C212.9,652.8 211.1,649.9 210.3,646.7 C209.4,643.6 209.3,639.5 210.3,636.2 C211.2,632.9 212.1,631.8 215.9,627.1 C219.6,622.4 227.2,614.4 233.0,608.2 C238.8,602.0 244.7,596.1 250.5,590.0 C256.3,583.9 262.2,577.8 268.0,571.8 C273.8,565.8 281.1,558.1 285.5,554.0 Z" fill="none" stroke="#fff" stroke-width="1.1" stroke-linejoin="round"/>
<path d="M549.4,588.9 C549.1,589.5 548.3,589.8 547.6,590.1 C546.9,590.4 545.6,590.2 545.3,590.7 C545.0,591.3 545.7,592.5 545.8,593.3 C545.8,594.1 545.9,595.1 545.6,595.6 C545.3,596.2 544.4,596.3 543.8,596.4 C543.1,596.6 541.9,596.0 541.6,596.5 C541.2,597.0 541.7,598.5 541.6,599.4 C541.6,600.3 541.5,601.4 541.2,601.8 C540.8,602.3 540.0,602.2 539.4,602.2 C538.8,602.2 537.8,601.3 537.4,601.7 C537.0,602.2 537.2,603.9 537.0,604.8 C536.9,605.7 536.7,606.8 536.3,607.2 C535.9,607.6 535.2,607.4 534.6,607.2 C534.0,607.0 533.2,605.8 532.8,606.2 C532.4,606.5 532.4,608.4 532.1,609.3 C531.8,610.3 531.5,611.4 531.0,611.7 C530.6,612.0 530.0,611.6 529.5,611.3 C529.0,610.9 528.5,609.5 528.1,609.7 C527.6,610.0 527.3,612.0 526.9,612.9 C526.5,613.8 526.1,614.9 525.6,615.2 C525.2,615.4 524.7,614.8 524.3,614.3 C523.9,613.8 523.6,612.1 523.2,612.3 C522.8,612.5 522.2,614.5 521.7,615.4 C521.3,616.2 520.7,617.3 520.3,617.4 C519.8,617.6 519.5,616.8 519.2,616.2 C518.9,615.6 518.9,613.7 518.4,613.8 C518.0,613.9 517.2,615.9 516.7,616.7 C516.1,617.5 515.4,618.5 515.0,618.5 C514.6,618.5 514.4,617.6 514.2,616.9 C514.0,616.2 514.3,614.2 513.9,614.2 C513.5,614.2 512.5,616.1 511.9,616.8 C511.2,617.5 510.5,618.4 510.1,618.3 C509.7,618.2 509.7,617.2 509.6,616.4 C509.5,615.6 510.0,613.6 509.7,613.4 C509.3,613.3 508.1,615.1 507.5,615.7 C506.8,616.3 506.0,617.0 505.6,616.8 C505.3,616.7 505.4,615.6 505.5,614.7 C505.5,613.8 506.2,611.8 505.9,611.6 C505.6,611.4 504.3,613.0 503.6,613.4 C502.9,613.8 502.1,614.4 501.8,614.2 C501.5,613.9 501.8,612.8 501.9,611.8 C502.1,610.9 503.0,609.0 502.8,608.7 C502.5,608.4 501.1,609.7 500.4,610.0 C499.7,610.3 498.9,610.7 498.7,610.3 C498.5,610.0 498.8,608.9 499.1,607.9 C499.4,607.0 500.5,605.2 500.4,604.8 C500.2,604.4 498.7,605.5 498.0,605.6 C497.3,605.8 496.5,606.0 496.4,605.5 C496.2,605.1 496.7,604.0 497.1,603.1 C497.5,602.2 498.8,600.5 498.7,600.1 C498.6,599.6 497.0,600.4 496.4,600.4 C495.8,600.3 495.0,600.3 494.9,599.8 C494.9,599.4 495.5,598.3 495.9,597.5 C496.4,596.6 497.9,595.2 497.8,594.7 C497.8,594.2 496.3,594.6 495.7,594.4 C495.1,594.2 494.4,594.0 494.4,593.5 C494.4,592.9 495.1,592.0 495.7,591.2 C496.3,590.4 497.8,589.3 497.8,588.7 C497.8,588.2 496.4,588.2 495.9,587.9 C495.4,587.5 494.8,587.2 494.9,586.6 C495.0,586.0 495.7,585.2 496.4,584.5 C497.0,583.8 498.5,583.0 498.6,582.4 C498.7,581.8 497.4,581.6 497.0,581.1 C496.6,580.6 496.1,580.0 496.3,579.4 C496.4,578.8 497.2,578.2 497.9,577.6 C498.6,577.0 500.1,576.5 500.2,575.9 C500.4,575.3 499.3,574.7 499.0,574.1 C498.7,573.5 498.3,572.8 498.5,572.2 C498.7,571.6 499.6,571.1 500.3,570.7 C501.0,570.2 502.4,570.1 502.6,569.5 C502.9,568.9 501.9,568.0 501.8,567.2 C501.6,566.5 501.3,565.6 501.6,565.1 C501.9,564.5 502.7,564.2 503.4,563.9 C504.1,563.6 505.4,563.8 505.7,563.3 C506.0,562.7 505.3,561.5 505.2,560.7 C505.2,559.9 505.1,558.9 505.4,558.4 C505.7,557.8 506.6,557.7 507.2,557.6 C507.9,557.4 509.1,558.0 509.4,557.5 C509.8,557.0 509.3,555.5 509.4,554.6 C509.4,553.7 509.5,552.6 509.8,552.2 C510.2,551.7 511.0,551.8 511.6,551.8 C512.2,551.8 513.2,552.7 513.6,552.3 C514.0,551.8 513.8,550.1 514.0,549.2 C514.1,548.3 514.3,547.2 514.7,546.8 C515.1,546.4 515.8,546.6 516.4,546.8 C517.0,547.0 517.8,548.2 518.2,547.8 C518.6,547.5 518.6,545.6 518.9,544.7 C519.2,543.7 519.5,542.6 520.0,542.3 C520.4,542.0 521.0,542.4 521.5,542.7 C522.0,543.1 522.5,544.5 522.9,544.3 C523.4,544.0 523.7,542.0 524.1,541.1 C524.5,540.2 524.9,539.1 525.4,538.8 C525.8,538.6 526.3,539.2 526.7,539.7 C527.1,540.2 527.4,541.9 527.8,541.7 C528.2,541.5 528.8,539.5 529.3,538.6 C529.7,537.8 530.3,536.7 530.7,536.6 C531.2,536.4 531.5,537.2 531.8,537.8 C532.1,538.4 532.1,540.3 532.6,540.2 C533.0,540.1 533.8,538.1 534.3,537.3 C534.9,536.5 535.6,535.5 536.0,535.5 C536.4,535.5 536.6,536.4 536.8,537.1 C537.0,537.8 536.7,539.8 537.1,539.8 C537.5,539.8 538.5,537.9 539.1,537.2 C539.8,536.5 540.5,535.6 540.9,535.7 C541.3,535.8 541.3,536.8 541.4,537.6 C541.5,538.4 541.0,540.4 541.3,540.6 C541.7,540.7 542.9,538.9 543.5,538.3 C544.2,537.7 545.0,537.0 545.4,537.2 C545.7,537.3 545.6,538.4 545.5,539.3 C545.5,540.2 544.8,542.2 545.1,542.4 C545.4,542.6 546.7,541.0 547.4,540.6 C548.1,540.2 548.9,539.6 549.2,539.8 C549.5,540.1 549.2,541.2 549.1,542.2 C548.9,543.1 548.0,545.0 548.2,545.3 C548.5,545.6 549.9,544.3 550.6,544.0 C551.3,543.7 552.1,543.3 552.3,543.7 C552.5,544.0 552.2,545.1 551.9,546.1 C551.6,547.0 550.5,548.8 550.6,549.2 C550.8,549.6 552.3,548.5 553.0,548.4 C553.7,548.2 554.5,548.0 554.6,548.5 C554.8,548.9 554.3,550.0 553.9,550.9 C553.5,551.8 552.2,553.5 552.3,553.9 C552.4,554.4 554.0,553.6 554.6,553.6 C555.2,553.7 556.0,553.7 556.1,554.2 C556.1,554.6 555.5,555.7 555.1,556.5 C554.6,557.4 553.1,558.8 553.2,559.3 C553.2,559.8 554.7,559.4 555.3,559.6 C555.9,559.8 556.6,560.0 556.6,560.5 C556.6,561.1 555.9,562.0 555.3,562.8 C554.7,563.6 553.2,564.7 553.2,565.3 C553.2,565.8 554.6,565.8 555.1,566.1 C555.6,566.5 556.2,566.8 556.1,567.4 C556.0,568.0 555.3,568.8 554.6,569.5 C554.0,570.2 552.5,571.0 552.4,571.6 C552.3,572.2 553.6,572.4 554.0,572.9 C554.4,573.4 554.9,574.0 554.7,574.6 C554.6,575.2 553.8,575.8 553.1,576.4 C552.4,577.0 550.9,577.5 550.8,578.1 C550.6,578.7 551.7,579.3 552.0,579.9 C552.3,580.5 552.7,581.2 552.5,581.8 C552.3,582.4 551.4,582.9 550.7,583.3 C550.0,583.8 548.6,583.9 548.4,584.5 C548.1,585.1 549.1,586.0 549.2,586.8 C549.4,587.5 549.7,588.4 549.4,588.9 Z" fill="#fff" stroke="#111" stroke-width="2.8" stroke-linejoin="round"/>
<circle cx="545.5" cy="549.5" r="2" fill="#111"/><circle cx="508.8" cy="607.5" r="2" fill="#111"/>
<path d="M515.7,584.3 L515.8,583.4 L515.9,582.3 L516.1,581.3 L516.4,580.2 L516.7,579.2 L517.0,578.1 L517.5,577.0 L518.0,576.0 L518.5,575.0 L519.1,574.0 L519.7,573.0 L520.4,572.1 L521.1,571.3 L521.8,570.5 L522.5,569.8 L523.3,569.2 L524.0,568.6 L524.8,568.1 L525.6,567.7 L526.3,567.4 L527.1,567.2 L527.8,567.0 L528.5,567.0 L529.1,567.0 L529.8,567.2 L530.4,567.4 L547.4,575.9 L547.9,576.2 L548.4,576.6 L548.9,577.1 L549.2,577.7 L549.6,578.4 L549.8,579.1 L550.0,579.9 L550.2,580.7 L550.2,581.6 L550.2,582.6 L550.2,583.6 L550.0,584.6 L549.9,585.6 L549.6,586.7 L549.3,587.8 L548.9,588.9 L548.5,589.9 L548.0,591.0 L547.4,592.0 L546.9,593.0 L546.2,593.9 L545.6,594.8 L544.9,595.6 L544.2,596.4 L543.4,597.1 L542.7,597.8 L541.9,598.4 L541.1,598.8 L540.4,599.2 L539.6,599.6 L538.9,599.8 L538.2,599.9 L537.5,600.0 L536.8,599.9 L536.2,599.8 L535.6,599.5 L518.6,591.0 L518.0,590.7 L517.5,590.3 L517.1,589.8 L516.7,589.2 L516.4,588.6 L516.1,587.8 L515.9,587.0 L515.8,586.2 L515.7,585.3 Z" fill="#fff" stroke="#111" stroke-width="2.5" stroke-linejoin="round"/>
<path d="M526.9,596.2 L527.0,594.6 L527.2,592.9 L527.5,591.1 L528.0,589.4 L528.5,587.6 L529.1,585.8 L529.8,584.0 L530.6,582.3 L531.5,580.6 L532.5,579.0 L533.6,577.4 L534.7,575.9 L535.8,574.5 L537.0,573.2 L538.2,572.0 L539.5,570.9 L540.8,570.0 L542.0,569.2 L543.3,568.5 L544.6,568.0 L545.8,567.6 L547.0,567.4 L548.2,567.3 L549.3,567.4 L550.3,567.6 L551.3,568.0 L557.6,571.1 L558.5,571.7 L559.3,572.4 L560.0,573.2 L560.7,574.2 L561.2,575.3 L561.7,576.5 L562.0,577.8 L562.2,579.2 L562.3,580.7 L562.4,582.3 L562.2,584.0 L562.0,585.7 L561.7,587.4 L561.3,589.2 L560.7,591.0 L560.1,592.7 L559.4,594.5 L558.6,596.2 L557.7,597.9 L556.7,599.6 L555.7,601.1 L554.6,602.6 L553.4,604.0 L552.2,605.4 L551.0,606.5 L549.7,607.6 L548.5,608.6 L547.2,609.4 L545.9,610.1 L544.7,610.6 L543.4,611.0 L542.2,611.2 L541.1,611.2 L540.0,611.2 L538.9,610.9 L537.9,610.5 L531.7,607.4 L530.8,606.9 L529.9,606.2 L529.2,605.3 L528.5,604.4 L528.0,603.3 L527.6,602.1 L527.2,600.7 L527.0,599.3 L526.9,597.8 Z" fill="#fff" stroke="#111" stroke-width="2.5" stroke-linejoin="round"/>
<ellipse cx="547.7" cy="590.8" rx="12.1" ry="22.0" transform="rotate(26.5 547.7 590.8)" fill="#fff" stroke="#111" stroke-width="2.5"/>
<ellipse cx="547.7" cy="590.8" rx="9.4" ry="17.0" transform="rotate(26.5 547.7 590.8)" fill="none" stroke="#222" stroke-width="1.8"/>
<ellipse cx="547.7" cy="590.8" rx="7.4" ry="13.5" transform="rotate(26.5 547.7 590.8)" fill="none" stroke="#666" stroke-width="1.0"/>
<path d="M540.1,595.3 L540.2,594.4 L540.3,593.5 L540.4,592.6 L540.7,591.7 L541.0,590.8 L541.3,589.8 L541.7,588.9 L542.1,588.0 L542.5,587.1 L543.1,586.3 L543.6,585.4 L544.2,584.7 L544.8,583.9 L545.4,583.2 L546.0,582.6 L546.7,582.0 L547.4,581.6 L548.0,581.1 L548.7,580.8 L549.4,580.5 L550.0,580.3 L550.6,580.2 L551.2,580.2 L551.8,580.2 L552.4,580.3 L552.9,580.5 L570.8,589.5 L571.2,589.8 L571.7,590.1 L572.1,590.5 L572.4,591.0 L572.7,591.6 L572.9,592.2 L573.1,592.9 L573.2,593.7 L573.3,594.5 L573.3,595.3 L573.2,596.2 L573.1,597.0 L572.9,598.0 L572.7,598.9 L572.4,599.8 L572.1,600.8 L571.7,601.7 L571.3,602.6 L570.8,603.5 L570.3,604.3 L569.8,605.1 L569.2,605.9 L568.6,606.7 L568.0,607.4 L567.3,608.0 L566.7,608.5 L566.0,609.0 L565.4,609.5 L564.7,609.8 L564.0,610.1 L563.4,610.3 L562.8,610.4 L562.1,610.4 L561.6,610.4 L561.0,610.2 L560.5,610.0 L542.6,601.1 L542.1,600.8 L541.7,600.5 L541.3,600.0 L541.0,599.5 L540.7,599.0 L540.5,598.3 L540.3,597.6 L540.2,596.9 L540.1,596.1 Z" fill="#fff" stroke="#111" stroke-width="2.5" stroke-linejoin="round"/>
<path d="M549.0,613.3 L549.1,611.7 L549.3,610.1 L549.6,608.4 L550.0,606.7 L550.6,605.0 L551.2,603.3 L551.9,601.6 L552.6,600.0 L553.5,598.4 L554.4,596.8 L555.4,595.3 L556.5,593.9 L557.6,592.5 L558.7,591.3 L559.9,590.1 L561.1,589.1 L562.3,588.2 L563.5,587.4 L564.7,586.8 L565.9,586.3 L567.1,585.9 L568.2,585.7 L569.3,585.6 L570.4,585.7 L571.4,586.0 L572.3,586.3 L583.1,591.7 L583.9,592.2 L584.7,592.9 L585.4,593.7 L586.0,594.6 L586.6,595.6 L587.0,596.8 L587.3,598.0 L587.5,599.4 L587.6,600.8 L587.6,602.4 L587.5,603.9 L587.3,605.5 L587.0,607.2 L586.6,608.9 L586.1,610.6 L585.5,612.3 L584.8,614.0 L584.0,615.6 L583.2,617.2 L582.3,618.8 L581.3,620.3 L580.2,621.8 L579.1,623.1 L578.0,624.3 L576.8,625.5 L575.6,626.5 L574.4,627.4 L573.2,628.2 L572.0,628.8 L570.8,629.3 L569.6,629.7 L568.4,629.9 L567.3,630.0 L566.3,629.9 L565.3,629.6 L564.3,629.3 L553.6,623.9 L552.7,623.4 L551.9,622.7 L551.2,622.0 L550.6,621.0 L550.1,620.0 L549.7,618.8 L549.4,617.6 L549.1,616.2 L549.0,614.8 Z" fill="#fff" stroke="#111" stroke-width="2.5" stroke-linejoin="round"/>
<ellipse cx="573.7" cy="610.5" rx="11.6" ry="21.0" transform="rotate(26.5 573.7 610.5)" fill="#fff" stroke="#111" stroke-width="2.5"/>
<ellipse cx="567.4" cy="607.4" rx="10.5" ry="19.0" transform="rotate(26.5 567.4 607.4)" fill="none" stroke="#777" stroke-width="1.0"/>
<path d="M562.6,617.0 L562.7,615.4 L562.9,613.7 L563.2,612.0 L563.6,610.3 L564.1,608.6 L564.7,606.8 L565.5,605.1 L566.2,603.4 L567.1,601.8 L568.1,600.1 L569.1,598.6 L570.2,597.1 L571.3,595.8 L572.5,594.5 L573.7,593.3 L574.9,592.3 L576.1,591.4 L577.4,590.6 L578.6,589.9 L579.9,589.4 L581.0,589.0 L582.2,588.8 L583.4,588.7 L584.4,588.8 L585.5,589.1 L586.4,589.5 L599.9,596.1 L600.7,596.7 L601.5,597.4 L602.3,598.2 L602.9,599.1 L603.4,600.2 L603.9,601.4 L604.2,602.6 L604.4,604.0 L604.5,605.5 L604.5,607.0 L604.4,608.7 L604.2,610.3 L603.9,612.0 L603.5,613.8 L603.0,615.5 L602.3,617.2 L601.6,619.0 L600.8,620.7 L600.0,622.3 L599.0,623.9 L598.0,625.5 L596.9,626.9 L595.8,628.3 L594.6,629.6 L593.4,630.7 L592.2,631.8 L591.0,632.7 L589.7,633.5 L588.5,634.2 L587.2,634.7 L586.0,635.0 L584.9,635.3 L583.7,635.3 L582.6,635.2 L581.6,635.0 L580.7,634.6 L567.2,627.9 L566.4,627.4 L565.5,626.7 L564.8,625.9 L564.2,625.0 L563.7,623.9 L563.2,622.7 L562.9,621.4 L562.7,620.0 L562.6,618.6 Z" fill="#fff" stroke="#111" stroke-width="2.5" stroke-linejoin="round"/>
<ellipse cx="590.3" cy="615.4" rx="11.8" ry="21.5" transform="rotate(26.5 590.3 615.4)" fill="#fff" stroke="#111" stroke-width="2.5"/>
<ellipse cx="583.1" cy="611.8" rx="11.0" ry="20.0" transform="rotate(26.5 583.1 611.8)" fill="none" stroke="#777" stroke-width="1.0"/>
<path d="M580.6,625.2 L580.7,623.6 L580.9,621.9 L581.2,620.1 L581.6,618.4 L582.2,616.6 L582.8,614.8 L583.5,613.0 L584.4,611.3 L585.2,609.6 L586.2,608.0 L587.3,606.4 L588.4,604.9 L589.5,603.5 L590.7,602.2 L591.9,601.0 L593.2,599.9 L594.5,599.0 L595.7,598.2 L597.0,597.5 L598.3,597.0 L599.5,596.6 L600.7,596.4 L601.9,596.3 L603.0,596.4 L604.0,596.6 L605.0,597.0 L620.2,604.6 L621.1,605.2 L621.9,605.9 L622.7,606.7 L623.3,607.6 L623.9,608.7 L624.3,610.0 L624.6,611.3 L624.9,612.7 L625.0,614.2 L625.0,615.8 L624.9,617.4 L624.7,619.1 L624.4,620.9 L623.9,622.6 L623.4,624.4 L622.8,626.2 L622.0,628.0 L621.2,629.7 L620.3,631.4 L619.4,633.0 L618.3,634.6 L617.2,636.1 L616.1,637.5 L614.9,638.8 L613.6,640.0 L612.4,641.1 L611.1,642.0 L609.8,642.9 L608.6,643.5 L607.3,644.0 L606.1,644.4 L604.9,644.6 L603.7,644.7 L602.6,644.6 L601.6,644.4 L600.6,644.0 L585.4,636.4 L584.5,635.9 L583.6,635.2 L582.9,634.3 L582.2,633.4 L581.7,632.3 L581.3,631.1 L580.9,629.8 L580.7,628.3 L580.6,626.8 Z" fill="#fff" stroke="#111" stroke-width="2.7" stroke-linejoin="round"/>
<ellipse cx="610.4" cy="624.3" rx="12.1" ry="22.0" transform="rotate(26.5 610.4 624.3)" fill="#fff" stroke="#111" stroke-width="2.7"/>
<ellipse cx="610.4" cy="624.3" rx="9.6" ry="17.5" transform="rotate(26.5 610.4 624.3)" fill="none" stroke="#222" stroke-width="1.8"/>
<ellipse cx="610.4" cy="624.3" rx="4.4" ry="8.0" transform="rotate(26.5 610.4 624.3)" fill="none" stroke="#222" stroke-width="2.0"/>
<ellipse cx="610.4" cy="624.3" rx="1.9" ry="3.5" transform="rotate(26.5 610.4 624.3)" fill="none" stroke="#222" stroke-width="1.5"/>
<circle cx="616.8" cy="627.5" r="1.5" fill="none" stroke="#444" stroke-width="1.1"/>
<circle cx="612.2" cy="633.7" r="1.5" fill="none" stroke="#444" stroke-width="1.1"/>
<circle cx="606.9" cy="636.4" r="1.5" fill="none" stroke="#444" stroke-width="1.1"/>
<circle cx="602.9" cy="634.4" r="1.5" fill="none" stroke="#444" stroke-width="1.1"/>
<circle cx="601.8" cy="628.6" r="1.5" fill="none" stroke="#444" stroke-width="1.1"/>
<circle cx="604.0" cy="621.1" r="1.5" fill="none" stroke="#444" stroke-width="1.1"/>
<circle cx="608.6" cy="614.9" r="1.5" fill="none" stroke="#444" stroke-width="1.1"/>
<circle cx="613.9" cy="612.3" r="1.5" fill="none" stroke="#444" stroke-width="1.1"/>
<circle cx="617.9" cy="614.2" r="1.5" fill="none" stroke="#444" stroke-width="1.1"/>
<circle cx="619.0" cy="620.0" r="1.5" fill="none" stroke="#444" stroke-width="1.1"/>
<path d="M495.5,415.0 L497.0,407.0 L503.5,402.5 L562.0,345.5 L568.0,341.0 L577.0,339.5 L584.5,344.0 L587.5,350.0 L592.0,365.0 L596.5,377.0 L598.0,384.5 L597.0,392.0 L600.0,391.0 L607.5,385.0 L612.0,386.5 L618.0,389.5 L627.0,389.5 L633.0,386.5 L636.0,381.0 L643.0,379.5 L650.0,381.0 L654.0,385.0 L660.0,400.0 L666.0,415.0 L666.8,419.5 L660.0,427.0 L648.0,436.0 L640.5,443.5 L637.5,446.0 L633.0,442.0 L627.0,439.0 L618.0,434.5 L610.5,436.0 L604.5,443.5 L603.0,445.0 L612.0,469.0 L612.0,475.0 L600.0,485.5 L595.5,488.5 L585.0,490.0 L576.0,488.0 L573.0,481.0 L568.8,474.0 L557.5,469.5 L546.2,462.8 L530.5,456.0 L510.2,449.2 L503.5,444.8 L499.0,435.8 L496.8,426.8 Z" fill="#fff" stroke="#111" stroke-width="2.4" stroke-linejoin="round"/>
<path d="M517.0,419.0 L535.0,424.0" fill="none" stroke="#111" stroke-width="1.9" stroke-linejoin="round" stroke-linecap="round"/>
<path d="M535.0,424.0 L548.5,416.0 L553.0,437.0 L540.0,445.0 L535.0,424.0" fill="none" stroke="#111" stroke-width="1.9" stroke-linejoin="round" stroke-linecap="round"/>
<path d="M540.0,445.0 L541.0,456.0" fill="none" stroke="#111" stroke-width="1.9" stroke-linejoin="round" stroke-linecap="round"/>
<path d="M514.0,425.0 C514.3,427.0 515.0,433.0 516.0,437.0 C517.0,441.0 519.3,447.0 520.0,449.0" fill="none" stroke="#777" stroke-width="0.9" stroke-linecap="round"/>
<path d="M524.5,425.0 C524.9,427.5 526.1,435.5 527.0,440.0 C527.9,444.5 529.5,450.0 530.0,452.0" fill="none" stroke="#777" stroke-width="0.9" stroke-linecap="round"/>
<path d="M505.0,424.0 C505.2,426.0 505.3,432.3 506.0,436.0 C506.7,439.7 508.5,444.3 509.0,446.0" fill="none" stroke="#777" stroke-width="0.9" stroke-linecap="round"/>
<path d="M541,445 L553,446 L556,456 Z" fill="#fff" stroke="#111" stroke-width="1.8" stroke-linejoin="round"/>
<path d="M543.0,447.0 C544.3,447.3 549.7,448.7 551.0,449.0" fill="none" stroke="#888" stroke-width="1.6"/>
<path d="M529.0,395.0 C528.8,394.5 527.0,393.8 527.5,392.0 C528.0,390.2 529.8,386.8 532.0,384.5 C534.2,382.2 538.0,379.6 541.0,378.5 C544.0,377.4 547.2,377.5 550.0,377.8 C552.8,378.0 554.5,378.9 557.5,380.0 C560.5,381.1 565.2,383.2 568.0,384.5 C570.8,385.8 573.0,387.0 574.0,387.5" fill="none" stroke="#111" stroke-width="1.9" stroke-linejoin="round" stroke-linecap="round"/>
<path d="M531.0,397.0 C530.8,396.3 529.5,394.7 530.0,393.0 C530.5,391.3 532.0,388.9 534.0,387.0 C536.0,385.1 539.3,382.5 542.0,381.5 C544.7,380.5 547.5,380.8 550.0,381.0 C552.5,381.2 554.2,381.9 557.0,383.0 C559.8,384.1 564.3,386.2 567.0,387.5 C569.7,388.8 572.0,390.0 573.0,390.5" fill="none" stroke="#777" stroke-width="0.9" stroke-linecap="round"/>
<path d="M529.0,395.0 C529.5,395.8 530.2,397.9 532.0,399.5 C533.8,401.1 538.2,403.9 539.5,404.8" fill="none" stroke="#111" stroke-width="1.9" stroke-linejoin="round" stroke-linecap="round"/>
<path d="M539.5,404.8 C540.8,403.6 544.8,399.6 547.0,398.0 C549.2,396.4 550.5,395.2 553.0,395.0 C555.5,394.8 559.0,395.8 562.0,396.5 C565.0,397.2 568.5,398.5 571.0,399.5 C573.5,400.5 576.0,402.0 577.0,402.5" fill="none" stroke="#111" stroke-width="1.9" stroke-linejoin="round" stroke-linecap="round"/>
<path d="M539.5,404.8 L547.0,413.0 L554.5,420.5 L554.5,426.5" fill="none" stroke="#111" stroke-width="1.9" stroke-linejoin="round" stroke-linecap="round"/>
<path d="M554.5,426.5 C555.4,426.4 557.7,426.2 560.0,426.0 C562.3,425.8 566.3,425.6 568.5,425.5 C570.7,425.4 570.8,425.8 573.0,425.5 C575.2,425.2 579.0,425.0 582.0,424.0 C585.0,423.0 588.5,421.2 591.0,419.5 C593.5,417.8 596.0,416.0 597.0,413.5 C598.0,411.0 597.0,406.0 597.0,404.5" fill="none" stroke="#111" stroke-width="1.9" stroke-linejoin="round" stroke-linecap="round"/>
<path d="M548.5,416.0 C548.2,415.5 547.2,413.5 547.0,413.0" fill="none" stroke="#111" stroke-width="1.9" stroke-linejoin="round" stroke-linecap="round"/>
<path d="M573.0,391.0 L587.2,379.0 L594.8,395.5 L579.0,403.0 L573.0,391.0" fill="none" stroke="#111" stroke-width="1.9" stroke-linejoin="round" stroke-linecap="round"/>
<path d="M580.0,359.0 C580.2,360.8 580.2,366.7 581.5,369.5 C582.8,372.3 586.5,374.9 587.5,376.0" fill="none" stroke="#777" stroke-width="0.9" stroke-linecap="round"/>
<path d="M587.5,352.0 C587.8,354.0 588.2,360.0 589.0,364.0 C589.8,368.0 591.5,374.0 592.0,376.0" fill="none" stroke="#777" stroke-width="0.9" stroke-linecap="round"/>
<path d="M596.0,393.0 L598.0,399.0" fill="none" stroke="#555" stroke-width="0.9"/>
<path d="M597.2,392.4 L599.2,398.4" fill="none" stroke="#555" stroke-width="0.9"/>
<path d="M598.4,391.8 L600.4,397.8" fill="none" stroke="#555" stroke-width="0.9"/>
<path d="M599.6,391.2 L601.6,397.2" fill="none" stroke="#555" stroke-width="0.9"/>
<path d="M592.5,436.0 C592.5,435.0 591.2,432.5 592.5,430.0 C593.8,427.5 596.8,423.5 600.0,421.0 C603.2,418.5 608.8,416.0 612.0,415.0 C615.2,414.0 617.0,414.2 619.5,415.0 C622.0,415.8 625.0,418.8 627.0,419.5 C629.0,420.2 630.8,419.5 631.5,419.5" fill="none" stroke="#111" stroke-width="1.9" stroke-linejoin="round" stroke-linecap="round"/>
<path d="M595.0,437.0 C595.0,436.1 593.9,433.7 595.0,431.5 C596.1,429.3 598.7,426.2 601.5,424.0 C604.3,421.8 609.1,419.4 612.0,418.5 C614.9,417.6 616.7,417.8 619.0,418.5 C621.3,419.2 624.8,421.8 626.0,422.5" fill="none" stroke="#777" stroke-width="0.9" stroke-linecap="round"/>
<path d="M604.5,423.0 C604.8,424.5 605.0,429.8 606.0,432.0 C607.0,434.2 609.8,435.3 610.5,436.0" fill="none" stroke="#777" stroke-width="0.9" stroke-linecap="round"/>
<path d="M615.0,417.0 C615.3,418.8 616.5,425.1 617.0,428.0 C617.5,430.9 617.8,433.4 618.0,434.5" fill="none" stroke="#777" stroke-width="0.9" stroke-linecap="round"/>
<path d="M628.5,412.0 L651.0,398.5 L660.0,424.0" fill="none" stroke="#111" stroke-width="1.9" stroke-linejoin="round" stroke-linecap="round"/>
<path d="M628.5,412.0 L631.0,420.0" fill="none" stroke="#777" stroke-width="0.9" stroke-linecap="round"/>
<path d="M655.0,392.0 C656.2,395.0 660.5,405.3 662.0,410.0 C663.5,414.7 663.7,418.3 664.0,420.0" fill="none" stroke="#777" stroke-width="0.9" stroke-linecap="round"/>
<path d="M589.5,454.0 L603.0,445.0" fill="none" stroke="#111" stroke-width="1.9" stroke-linejoin="round" stroke-linecap="round"/>
<path d="M589.5,454.0 L592.0,486.0" fill="none" stroke="#111" stroke-width="1.9" stroke-linejoin="round" stroke-linecap="round"/>
<path d="M603.0,445.0 L612.0,469.0" fill="none" stroke="#111" stroke-width="1.9" stroke-linejoin="round" stroke-linecap="round"/>
<path d="M568.5,458.0 C568.5,459.8 567.8,465.2 568.5,469.0 C569.2,472.8 572.2,479.0 573.0,481.0" fill="none" stroke="#111" stroke-width="1.9" stroke-linejoin="round" stroke-linecap="round"/>
<path d="M573.0,458.0 C573.3,460.3 573.8,467.5 575.0,472.0 C576.2,476.5 579.2,482.8 580.0,485.0" fill="none" stroke="#777" stroke-width="0.9" stroke-linecap="round"/>
<ellipse cx="573.25" cy="348.5" rx="11" ry="8.8" transform="rotate(-12 573.25 348.5)" fill="#fff" stroke="#111" stroke-width="2.4"/>
<ellipse cx="572.95" cy="349.1" rx="6.050000000000001" ry="4.5760000000000005" transform="rotate(-12 573.25 348.5)" fill="#fff" stroke="#111" stroke-width="2.4"/>
<ellipse cx="642.75" cy="388.75" rx="10.8" ry="8.6" transform="rotate(-12 642.75 388.75)" fill="#fff" stroke="#111" stroke-width="2.4"/>
<ellipse cx="642.45" cy="389.35" rx="5.940000000000001" ry="4.4719999999999995" transform="rotate(-12 642.75 388.75)" fill="#fff" stroke="#111" stroke-width="2.4"/>
<ellipse cx="507.25" cy="411.5" rx="12" ry="8.6" transform="rotate(-12 507.25 411.5)" fill="#fff" stroke="#111" stroke-width="2.4"/>
<ellipse cx="506.95" cy="412.1" rx="6.6000000000000005" ry="4.4719999999999995" transform="rotate(-12 507.25 411.5)" fill="#fff" stroke="#111" stroke-width="2.4"/>
<ellipse cx="577.5" cy="452.5" rx="11.2" ry="8.6" transform="rotate(-12 577.5 452.5)" fill="#fff" stroke="#111" stroke-width="2.4"/>
<ellipse cx="577.2" cy="453.1" rx="6.16" ry="4.4719999999999995" transform="rotate(-12 577.5 452.5)" fill="#fff" stroke="#111" stroke-width="2.4"/>
<ellipse cx="584.25" cy="390" rx="3.8" ry="5.4" transform="rotate(25 584.25 390)" fill="#fff" stroke="#111" stroke-width="2.1"/>
<ellipse cx="637.5" cy="419.5" rx="3.8" ry="5.4" transform="rotate(25 637.5 419.5)" fill="#fff" stroke="#111" stroke-width="2.1"/>
<ellipse cx="544.75" cy="430.5" rx="3.8" ry="5.4" transform="rotate(25 544.75 430.5)" fill="#fff" stroke="#111" stroke-width="2.1"/>
<ellipse cx="598.5" cy="461.5" rx="3.8" ry="5.4" transform="rotate(25 598.5 461.5)" fill="#fff" stroke="#111" stroke-width="2.1"/>
<ellipse cx="565.75" cy="371.75" rx="4.6" ry="4" fill="#fff" stroke="#111" stroke-width="2.2"/>
<ellipse cx="566.2" cy="372.4" rx="2" ry="1.6" fill="#222"/>
<path d="M687.9,359.4 C687.2,361.9 688.1,365.3 689.2,367.2 C690.3,369.2 692.2,370.7 694.4,371.2 C696.6,371.7 700.3,370.9 702.3,370.5 C704.3,370.1 705.4,369.1 706.2,368.6 C707.1,368.1 706.9,367.0 707.6,367.2 C708.3,367.5 709.4,368.6 710.2,369.9 C711.0,371.2 711.6,373.5 712.2,375.1 C712.9,376.7 713.1,379.1 714.1,379.7 C715.1,380.3 716.5,380.6 718.0,379.0 C719.5,377.4 721.8,371.6 723.3,369.9 C724.8,368.2 725.7,369.9 727.2,368.6 C728.8,367.3 730.8,364.0 732.5,362.0 C734.2,360.0 735.8,358.5 737.8,356.8 C739.7,355.0 742.5,353.2 744.3,351.5 C746.0,349.8 746.5,348.0 748.2,346.2 C750.0,344.5 753.0,342.8 754.8,341.0 C756.5,339.2 757.6,337.7 758.8,335.8 C759.9,333.8 760.3,330.7 761.4,329.2 C762.5,327.7 763.8,327.7 765.3,326.6 C766.8,325.5 769.3,323.9 770.6,322.6 C771.9,321.3 773.2,320.2 773.2,318.7 C773.2,317.2 771.5,314.9 770.6,313.4 C769.7,311.9 767.8,310.8 768.0,309.5 C768.2,308.2 770.6,307.1 771.9,305.6 C773.2,304.1 774.9,302.3 775.8,300.3 C776.7,298.3 777.3,295.7 777.1,293.8 C776.9,291.8 775.8,289.7 774.5,288.5 C773.2,287.3 771.2,286.7 769.2,286.5 C767.3,286.3 764.9,286.4 762.7,287.2 C760.5,288.0 757.8,289.4 756.1,291.1 C754.5,292.9 753.7,295.5 752.8,297.7 C751.9,299.9 754.3,300.3 750.9,304.2 C747.5,308.2 738.9,315.2 732.5,321.3 C726.1,327.4 717.2,336.8 712.8,341.0 C708.4,345.2 708.4,344.8 706.2,346.2 C704.1,347.7 701.9,348.5 699.7,349.5 C697.5,350.5 695.1,350.6 693.1,352.2 C691.1,353.8 688.5,356.9 687.9,359.4 Z" fill="#fff" stroke="#111" stroke-width="2.5" stroke-linejoin="round"/>
<path class="k" d="M708.9,364.6 L766.6,309.5" style="stroke-width:1.3"/>
<path class="g" d="M711.5,368.6 L769.25,314.75" style="stroke:#555"/>
<path class="k" d="M702.0,370.0 C702.7,369.3 704.8,367.0 706.0,366.0 C707.2,365.0 708.5,364.3 709.0,364.0" style="stroke-width:1.3"/>
<ellipse cx="698.4" cy="360.7" rx="5.6" ry="4" transform="rotate(-18 698.4 360.7)" fill="#fff" stroke="#111" stroke-width="2.2"/>
<ellipse cx="765.3" cy="296.4" rx="5.6" ry="4" transform="rotate(-18 765.3 296.4)" fill="#fff" stroke="#111" stroke-width="2.2"/>
<path d="M557.8,223.5 C555.5,221.8 553.6,222.4 551.0,222.4 C548.4,222.4 544.7,223.0 542.0,223.5 C539.3,224.0 537.2,224.3 535.0,225.2 C532.8,226.1 530.3,227.6 528.5,229.0 C526.7,230.4 525.3,232.1 524.0,233.6 C522.7,235.1 521.9,235.9 520.6,238.0 C519.3,240.1 517.7,243.2 516.0,246.0 C514.3,248.8 512.2,252.6 510.5,255.0 C508.8,257.4 507.7,258.9 506.0,260.6 C504.3,262.3 501.8,263.5 500.4,265.0 C499.0,266.5 498.0,268.1 497.5,269.6 C497.0,271.1 497.0,272.7 497.5,274.0 C498.0,275.3 499.1,276.6 500.4,277.5 C501.6,278.4 503.3,279.2 505.0,279.2 C506.7,279.2 508.5,278.5 510.5,277.5 C512.5,276.5 515.1,274.9 517.0,273.0 C518.9,271.1 520.4,268.1 521.8,266.2 C523.1,264.4 523.9,263.1 525.0,261.8 C526.1,260.4 526.7,260.4 528.5,258.4 C530.3,256.4 533.0,253.2 536.0,250.0 C539.0,246.8 544.0,241.3 546.5,239.0 C549.0,236.7 549.1,237.1 551.0,236.0 C552.9,234.9 555.5,233.1 557.8,232.5 C560.0,231.9 564.5,234.0 564.5,232.5 C564.5,231.0 560.0,225.2 557.8,223.5 Z" fill="#fff" stroke="#111" stroke-width="2.4" stroke-linejoin="round"/>
<path class="g" d="M500.0,268.0 C501.0,267.2 503.7,265.7 506.0,263.0 C508.3,260.3 511.5,255.7 514.0,252.0 C516.5,248.3 518.8,244.0 521.0,241.0 C523.2,238.0 524.8,236.0 527.0,234.0 C529.2,232.0 532.8,229.8 534.0,229.0" style="stroke:#555"/>
<path class="g" d="M503.0,275.0 C504.2,274.2 507.5,271.5 510.0,270.0 C512.5,268.5 516.7,266.7 518.0,266.0" />
<path d="M528.5,236.4 L544,244.3 L543,261 L526.8,257.8 Q523.5,249 525,241.5 Z" fill="#fff" stroke="none"/>
<path class="k" d="M528.5,236.4 L544,244.3" style="stroke-width:2.3"/>
<path class="k" d="M526.8,257.8 L543,261" style="stroke-width:2.3"/>
<path class="g" d="M528.5,236.4 C527.9,237.2 525.7,239.3 525.0,241.5 C524.3,243.7 524.2,246.7 524.5,249.4 C524.8,252.1 526.4,256.4 526.8,257.8" style="stroke:#555;stroke-width:1.2"/>
<path class="g" d="M532.0,236.0 C532.8,235.5 535.2,233.0 537.0,233.0 C538.8,233.0 542.0,235.5 543.0,236.0" />
<ellipse cx="543.7" cy="252.75" rx="5.6" ry="7.9" transform="rotate(-20 543.7 252.75)" fill="#fff" stroke="#111" stroke-width="2.6"/>
<ellipse cx="565.6" cy="224.5" rx="6.6" ry="6.6" fill="#fff" stroke="#111" stroke-width="2.6"/>
<ellipse cx="565.6" cy="222.5" rx="3.4" ry="2" fill="#fff" stroke="#111" stroke-width="1.6"/>
<path d="M516.5,289.5 L533,283.5 L542,277.5 L545,275.25 L551,276.75 L555.5,282 L554,288 L549.5,292.5 L545,297 L539,296.25 L536,295.5 L530,300 Z" fill="#fff" stroke="#111" stroke-width="2.4" stroke-linejoin="round"/>
<path class="g" d="M520.0,291.0 C521.7,290.3 526.7,288.7 530.0,287.0 C533.3,285.3 537.3,282.5 540.0,281.0 C542.7,279.5 545.0,278.5 546.0,278.0" style="stroke:#555"/>
<path d="M492.5,330.0 C492.0,327.8 494.2,321.8 495.5,318.0 C496.8,314.2 498.2,310.5 500.0,307.5 C501.8,304.5 503.8,301.9 506.0,300.0 C508.2,298.1 510.7,296.7 513.0,296.0 C515.3,295.3 519.7,292.8 520.0,296.0 C520.3,299.2 517.1,310.8 515.0,315.0 C512.9,319.2 510.2,318.2 507.5,321.0 C504.8,323.8 501.0,330.0 498.5,331.5 C496.0,333.0 493.0,332.2 492.5,330.0 Z" fill="#fff" stroke="#111" stroke-width="2.4" stroke-linejoin="round"/>
<path class="g" d="M496.0,326.0 C496.5,324.2 497.7,318.3 499.0,315.0 C500.3,311.7 503.2,307.5 504.0,306.0" style="stroke:#555"/>
<path d="M498,294 L500,289.5 L507,287 L513.5,288 L515,296 L513,302 L505,303.5 L499,300 Z" fill="#fff" stroke="#111" stroke-width="2.4" stroke-linejoin="round"/>
<path class="g" d="M500,290 L506,294 L513.5,289 M506,294 L505,303" style="stroke:#333"/>
<path d="M510.5,300 L522,297 Q530,302 528.5,313 L520,315.5 L511,311 Z" fill="#fff" stroke="#111" stroke-width="2.4" stroke-linejoin="round"/>
<ellipse cx="523.25" cy="306" rx="5.25" ry="7.5" transform="rotate(-15 523.25 306)" fill="#fff" stroke="#111" stroke-width="2.6"/>
<ellipse cx="491.5" cy="337.5" rx="8.2" ry="7.4" fill="#fff" stroke="#111" stroke-width="2.8"/>
<ellipse cx="489.5" cy="336" rx="3.4" ry="2.9" fill="#fff" stroke="#111" stroke-width="1.8"/>
<path class="kf" d="M667.2,445.1 L735.2,482.1 L740.8,471.9 L672.8,434.9 A5.8,5.8 0 0 0 667.2,445.1 Z" style="stroke-width:2.4"/>
<ellipse cx="738" cy="477" rx="3.48" ry="5.8" transform="rotate(28.6 738 477)" fill="#fff" stroke="#111" stroke-width="2.8"/>
<ellipse cx="738.5270332608743" cy="477.28676809782866" rx="1.8559999999999999" ry="3.596" transform="rotate(28.6 738 477)" fill="none" stroke="#444" stroke-width="1.1"/>
<path class="k" d="M680.8,452.5 Q685.8,448.6 686.4,442.3" style="stroke-width:2.2"/>
<path class="k" d="M683.9,454.2 Q688.9,450.3 689.4,444.0" style="stroke-width:1.2"/>
<path class="k" d="M689.7,457.3 Q694.6,453.4 695.2,447.1" style="stroke-width:2.2"/>
<path class="k" d="M692.7,459.0 Q697.7,455.1 698.3,448.8" style="stroke-width:1.2"/>
<path class="k" d="M723.7,475.8 Q728.6,471.9 729.2,465.6" style="stroke-width:1.4"/>
<path class="k" d="M726.4,477.3 Q731.4,473.4 731.9,467.1" style="stroke-width:2.0"/>
<path class="g" d="M673.9,439.1 L736.6,473.3" />
<path class="kf" d="M658.1,503.5 L724.1,541.0 L729.9,531.0 L663.9,493.5 A5.8,5.8 0 0 0 658.1,503.5 Z" style="stroke-width:2.4"/>
<ellipse cx="727" cy="536" rx="3.48" ry="5.8" transform="rotate(29.6 727 536)" fill="#fff" stroke="#111" stroke-width="2.8"/>
<ellipse cx="727.5216739344356" cy="536.2964056445658" rx="1.8559999999999999" ry="3.596" transform="rotate(29.6 727 536)" fill="none" stroke="#444" stroke-width="1.1"/>
<path class="k" d="M671.3,511.0 Q676.4,507.2 677.1,501.0" style="stroke-width:2.2"/>
<path class="k" d="M674.3,512.7 Q679.3,508.9 680.0,502.6" style="stroke-width:1.2"/>
<path class="k" d="M679.9,515.9 Q685.0,512.1 685.6,505.8" style="stroke-width:2.2"/>
<path class="k" d="M682.9,517.6 Q687.9,513.8 688.6,507.5" style="stroke-width:1.2"/>
<path class="k" d="M712.9,534.7 Q718.0,530.9 718.6,524.6" style="stroke-width:1.4"/>
<path class="k" d="M715.6,536.2 Q720.6,532.4 721.3,526.1" style="stroke-width:2.0"/>
<path class="g" d="M664.9,497.7 L725.7,532.2" />
<g transform="translate(631,512) rotate(-12)">
<path d="M-7.5,-8.0 L-7.5,8.0 A7.5,3.5 0 0 0 7.5,8.0 L7.5,-8.0 Z" fill="#fff" stroke="#111" stroke-width="2.2"/>
<ellipse cx="0" cy="-8.0" rx="7.5" ry="3.8" fill="#fff" stroke="#111" stroke-width="2.2"/>
<path d="M-5.5,-5.0 L-5.5,8.0" stroke="#777" stroke-width="0.9"/>
</g>
<g transform="translate(613.5,554) rotate(-12)">
<path d="M-7.5,-8.0 L-7.5,8.0 A7.5,3.5 0 0 0 7.5,8.0 L7.5,-8.0 Z" fill="#fff" stroke="#111" stroke-width="2.2"/>
<ellipse cx="0" cy="-8.0" rx="7.5" ry="3.8" fill="#fff" stroke="#111" stroke-width="2.2"/>
<path d="M-5.5,-5.0 L-5.5,8.0" stroke="#777" stroke-width="0.9"/>
</g>
<g transform="translate(510,169) scale(1.0)">
<path d="M-13,2 Q-13.5,-5 -8,-10 Q-2,-12.5 4,-11 Q11,-8 13,-1 Q13.5,7 7,10.5 Q0,12.5 -7,10.5 Q-13,8 -13,2 Z" fill="#111"/>
<ellipse cx="-2" cy="-3.5" rx="8.3" ry="6" fill="#fff"/>
<ellipse cx="-2" cy="-3.5" rx="6.6" ry="4.6" fill="#111"/>
<ellipse cx="-2.3" cy="-3.2" rx="4.3" ry="2.9" fill="#fff"/>
<path d="M-4.5,-2 Q-2,-4 1,-2.5" stroke="#111" stroke-width="1.4" fill="none"/>
<ellipse cx="-5.5" cy="6.5" rx="4.5" ry="2.6" transform="rotate(10 -5.5 6.5)" fill="#eee"/>
<path d="M2,6 L7,2 L9,5 L4,8.5 Z" fill="#eee"/>
<path d="M9,-4 L11,-1 L10,2" stroke="#bbb" stroke-width="1.5" fill="none"/>
</g>
<g transform="translate(444,234) scale(1.0)">
<path d="M-13,2 Q-13.5,-5 -8,-10 Q-2,-12.5 4,-11 Q11,-8 13,-1 Q13.5,7 7,10.5 Q0,12.5 -7,10.5 Q-13,8 -13,2 Z" fill="#111"/>
<ellipse cx="-2" cy="-3.5" rx="8.3" ry="6" fill="#fff"/>
<ellipse cx="-2" cy="-3.5" rx="6.6" ry="4.6" fill="#111"/>
<ellipse cx="-2.3" cy="-3.2" rx="4.3" ry="2.9" fill="#fff"/>
<path d="M-4.5,-2 Q-2,-4 1,-2.5" stroke="#111" stroke-width="1.4" fill="none"/>
<ellipse cx="-5.5" cy="6.5" rx="4.5" ry="2.6" transform="rotate(10 -5.5 6.5)" fill="#eee"/>
<path d="M2,6 L7,2 L9,5 L4,8.5 Z" fill="#eee"/>
<path d="M9,-4 L11,-1 L10,2" stroke="#bbb" stroke-width="1.5" fill="none"/>
</g>
<g transform="translate(756,268) scale(0.95)">
<path d="M-13,2 Q-13.5,-5 -8,-10 Q-2,-12.5 4,-11 Q11,-8 13,-1 Q13.5,7 7,10.5 Q0,12.5 -7,10.5 Q-13,8 -13,2 Z" fill="#111"/>
<ellipse cx="-2" cy="-3.5" rx="8.3" ry="6" fill="#fff"/>
<ellipse cx="-2" cy="-3.5" rx="6.6" ry="4.6" fill="#111"/>
<ellipse cx="-2.3" cy="-3.2" rx="4.3" ry="2.9" fill="#fff"/>
<path d="M-4.5,-2 Q-2,-4 1,-2.5" stroke="#111" stroke-width="1.4" fill="none"/>
<ellipse cx="-5.5" cy="6.5" rx="4.5" ry="2.6" transform="rotate(10 -5.5 6.5)" fill="#eee"/>
<path d="M2,6 L7,2 L9,5 L4,8.5 Z" fill="#eee"/>
<path d="M9,-4 L11,-1 L10,2" stroke="#bbb" stroke-width="1.5" fill="none"/>
</g>
<g transform="translate(687,331) scale(0.95)">
<path d="M-13,2 Q-13.5,-5 -8,-10 Q-2,-12.5 4,-11 Q11,-8 13,-1 Q13.5,7 7,10.5 Q0,12.5 -7,10.5 Q-13,8 -13,2 Z" fill="#111"/>
<ellipse cx="-2" cy="-3.5" rx="8.3" ry="6" fill="#fff"/>
<ellipse cx="-2" cy="-3.5" rx="6.6" ry="4.6" fill="#111"/>
<ellipse cx="-2.3" cy="-3.2" rx="4.3" ry="2.9" fill="#fff"/>
<path d="M-4.5,-2 Q-2,-4 1,-2.5" stroke="#111" stroke-width="1.4" fill="none"/>
<ellipse cx="-5.5" cy="6.5" rx="4.5" ry="2.6" transform="rotate(10 -5.5 6.5)" fill="#eee"/>
<path d="M2,6 L7,2 L9,5 L4,8.5 Z" fill="#eee"/>
<path d="M9,-4 L11,-1 L10,2" stroke="#bbb" stroke-width="1.5" fill="none"/>
</g>
<ellipse cx="522.5" cy="206" rx="10.5" ry="7.5" transform="rotate(-12 522.5 206)" fill="#fff" stroke="#111" stroke-width="2.6"/>
<ellipse cx="522.0" cy="206.5" rx="5.25" ry="3.45" transform="rotate(-12 522.5 206)" fill="#fff" stroke="#111" stroke-width="1.8"/>
<ellipse cx="456" cy="270" rx="10.5" ry="7.5" transform="rotate(-12 456 270)" fill="#fff" stroke="#111" stroke-width="2.6"/>
<ellipse cx="455.5" cy="270.5" rx="5.25" ry="3.45" transform="rotate(-12 456 270)" fill="#fff" stroke="#111" stroke-width="1.8"/>
<g transform="translate(563,188)">
<path d="M-8.3,-2 L-8.3,3.5 Q0,10.5 8.3,3.5 L8.3,-2 Z" fill="#fff" stroke="#111" stroke-width="2.6"/>
<ellipse cx="0" cy="-2" rx="8.3" ry="5.8" fill="#fff" stroke="#111" stroke-width="2.6"/>
<ellipse cx="0" cy="-2.2" rx="4.2" ry="2.6" fill="#fff" stroke="#222" stroke-width="1.8"/>
<path d="M-5,3.5 L-5,6.5 M4,3.5 L4,6.5" stroke="#444" stroke-width="1.2"/>
</g>
<g transform="translate(465.5,324.5)">
<path d="M-8,-1 Q-8,-6 -3,-7.5 L3,-7.8 Q8,-6 8.3,0 Q8,6 3,7.8 L-3,7.8 Q-8,6 -8,-1 Z" fill="#1a1a1a"/>
<ellipse cx="-0.5" cy="-0.5" rx="4.2" ry="3.6" fill="#777"/>
<ellipse cx="-0.5" cy="-0.5" rx="2.2" ry="1.8" fill="#222"/>
<path d="M3,4 L6,2" stroke="#999" stroke-width="1.2"/>
</g>
<g transform="translate(566,245) rotate(-4.6)">
<path d="M-2.6999999999999997,0 L2.6999999999999997,0 L4.5,4 L4.5,22.079872407968907 Q0,27.079872407968907 -4.5,22.079872407968907 L-4.5,4 Z" fill="#1a1a1a"/>
<line stroke="#eee" stroke-width="1" x1="-2.5" y1="5" x2="2.5" y2="6"/>
<line stroke="#eee" stroke-width="1" x1="-2.5" y1="8" x2="2.5" y2="9"/>
<line stroke="#eee" stroke-width="1" x1="-2.5" y1="11" x2="2.5" y2="12"/>
<line stroke="#eee" stroke-width="1" x1="-2.5" y1="14" x2="2.5" y2="15"/>
<line stroke="#eee" stroke-width="1" x1="-2.5" y1="17" x2="2.5" y2="18"/>
<line stroke="#eee" stroke-width="1" x1="-2.5" y1="20" x2="2.5" y2="21"/>
</g>
<g transform="translate(515,349) rotate(-62.2)">
<path d="M-2.4,0 L2.4,0 L4.0,4 L4.0,18.470910553583888 Q0,23.470910553583888 -4.0,18.470910553583888 L-4.0,4 Z" fill="#1a1a1a"/>
<line stroke="#eee" stroke-width="1" x1="-2.0" y1="5" x2="2.0" y2="6"/>
<line stroke="#eee" stroke-width="1" x1="-2.0" y1="8" x2="2.0" y2="9"/>
<line stroke="#eee" stroke-width="1" x1="-2.0" y1="11" x2="2.0" y2="12"/>
<line stroke="#eee" stroke-width="1" x1="-2.0" y1="14" x2="2.0" y2="15"/>
<line stroke="#eee" stroke-width="1" x1="-2.0" y1="17" x2="2.0" y2="18"/>
</g>
<g transform="translate(45,182) rotate(-24.6)">
<rect x="-4.6" y="5" width="9.2" height="21.4" rx="4" fill="#1a1a1a"/>
<line stroke="#ddd" stroke-width="0.9" x1="-1.5" y1="9" x2="1.5" y2="10.2"/>
<line stroke="#ddd" stroke-width="0.9" x1="-1.5" y1="11" x2="1.5" y2="12.2"/>
<line stroke="#ddd" stroke-width="0.9" x1="-1.5" y1="13" x2="1.5" y2="14.2"/>
<line stroke="#ddd" stroke-width="0.9" x1="-1.5" y1="15" x2="1.5" y2="16.2"/>
<line stroke="#ddd" stroke-width="0.9" x1="-1.5" y1="17" x2="1.5" y2="18.2"/>
<line stroke="#ddd" stroke-width="0.9" x1="-1.5" y1="19" x2="1.5" y2="20.2"/>
<line stroke="#ddd" stroke-width="0.9" x1="-1.5" y1="21" x2="1.5" y2="22.2"/>
<path d="M-7.6,-2 L-7.6,4 Q0,10 7.6,4 L7.6,-2 Z" fill="#1a1a1a"/>
<path d="M-4,4 L-1,6.5 L2,4 Z" fill="#eee"/>
<ellipse cx="0" cy="-2" rx="7.6" ry="6.2" fill="#1a1a1a"/>
<ellipse cx="-0.8" cy="-3" rx="4.8" ry="3.6" fill="#fff"/>
</g>
<g transform="translate(96.5,142.5) rotate(-22.0)">
<rect x="-4.6" y="5" width="9.2" height="20.3" rx="4" fill="#1a1a1a"/>
<line stroke="#ddd" stroke-width="0.9" x1="-1.5" y1="9" x2="1.5" y2="10.2"/>
<line stroke="#ddd" stroke-width="0.9" x1="-1.5" y1="11" x2="1.5" y2="12.2"/>
<line stroke="#ddd" stroke-width="0.9" x1="-1.5" y1="13" x2="1.5" y2="14.2"/>
<line stroke="#ddd" stroke-width="0.9" x1="-1.5" y1="15" x2="1.5" y2="16.2"/>
<line stroke="#ddd" stroke-width="0.9" x1="-1.5" y1="17" x2="1.5" y2="18.2"/>
<line stroke="#ddd" stroke-width="0.9" x1="-1.5" y1="19" x2="1.5" y2="20.2"/>
<line stroke="#ddd" stroke-width="0.9" x1="-1.5" y1="21" x2="1.5" y2="22.2"/>
<path d="M-7.6,-2 L-7.6,4 Q0,10 7.6,4 L7.6,-2 Z" fill="#1a1a1a"/>
<path d="M-4,4 L-1,6.5 L2,4 Z" fill="#eee"/>
<ellipse cx="0" cy="-2" rx="7.6" ry="6.2" fill="#1a1a1a"/>
<ellipse cx="-0.8" cy="-3" rx="4.8" ry="3.6" fill="#fff"/>
</g>
<g transform="translate(184,109.5) rotate(-19.6)">
<rect x="-4.6" y="5" width="9.2" height="18.9" rx="4" fill="#1a1a1a"/>
<line stroke="#ddd" stroke-width="0.9" x1="-1.5" y1="9" x2="1.5" y2="10.2"/>
<line stroke="#ddd" stroke-width="0.9" x1="-1.5" y1="11" x2="1.5" y2="12.2"/>
<line stroke="#ddd" stroke-width="0.9" x1="-1.5" y1="13" x2="1.5" y2="14.2"/>
<line stroke="#ddd" stroke-width="0.9" x1="-1.5" y1="15" x2="1.5" y2="16.2"/>
<line stroke="#ddd" stroke-width="0.9" x1="-1.5" y1="17" x2="1.5" y2="18.2"/>
<line stroke="#ddd" stroke-width="0.9" x1="-1.5" y1="19" x2="1.5" y2="20.2"/>
<path d="M-7.6,-2 L-7.6,4 Q0,10 7.6,4 L7.6,-2 Z" fill="#1a1a1a"/>
<path d="M-4,4 L-1,6.5 L2,4 Z" fill="#eee"/>
<ellipse cx="0" cy="-2" rx="7.6" ry="6.2" fill="#1a1a1a"/>
<ellipse cx="-0.8" cy="-3" rx="4.8" ry="3.6" fill="#fff"/>
</g>
<g transform="translate(251,112) rotate(-19.8)">
<rect x="-4.6" y="5" width="9.2" height="21.6" rx="4" fill="#1a1a1a"/>
<line stroke="#ddd" stroke-width="0.9" x1="-1.5" y1="9" x2="1.5" y2="10.2"/>
<line stroke="#ddd" stroke-width="0.9" x1="-1.5" y1="11" x2="1.5" y2="12.2"/>
<line stroke="#ddd" stroke-width="0.9" x1="-1.5" y1="13" x2="1.5" y2="14.2"/>
<line stroke="#ddd" stroke-width="0.9" x1="-1.5" y1="15" x2="1.5" y2="16.2"/>
<line stroke="#ddd" stroke-width="0.9" x1="-1.5" y1="17" x2="1.5" y2="18.2"/>
<line stroke="#ddd" stroke-width="0.9" x1="-1.5" y1="19" x2="1.5" y2="20.2"/>
<line stroke="#ddd" stroke-width="0.9" x1="-1.5" y1="21" x2="1.5" y2="22.2"/>
<path d="M-7.6,-2 L-7.6,4 Q0,10 7.6,4 L7.6,-2 Z" fill="#1a1a1a"/>
<path d="M-4,4 L-1,6.5 L2,4 Z" fill="#eee"/>
<ellipse cx="0" cy="-2" rx="7.6" ry="6.2" fill="#1a1a1a"/>
<ellipse cx="-0.8" cy="-3" rx="4.8" ry="3.6" fill="#fff"/>
</g>
<path class="ld" d="M51.0,174.0 C51.3,172.0 52.3,164.8 53.0,162.0 C53.7,159.2 54.3,158.3 55.0,157.5 C55.7,156.7 56.7,157.1 57.0,157.0" />
<path class="ld" d="M104.0,136.0 C105.0,134.5 108.0,129.3 110.0,127.0 C112.0,124.7 114.7,122.8 116.0,122.0 C117.3,121.2 117.7,122.0 118.0,122.0" />
<path class="ld" d="M190.0,105.0 C191.0,104.0 194.2,100.3 196.0,99.0 C197.8,97.7 199.8,97.3 201.0,97.0 C202.2,96.7 202.7,97.0 203.0,97.0" />
<path class="ld" d="M260.0,127.0 C261.7,126.0 267.0,122.8 270.0,121.0 C273.0,119.2 276.3,116.8 278.0,116.0 C279.7,115.2 279.7,116.0 280.0,116.0" />
<path class="ld" d="M325.0,228.0 C326.3,225.7 331.2,216.8 333.0,214.0 C334.8,211.2 334.8,211.7 336.0,211.0 C337.2,210.3 339.3,210.2 340.0,210.0" />
<path class="ld" d="M316.0,318.0 C314.3,320.0 308.7,327.7 306.0,330.0 C303.3,332.3 301.3,331.7 300.0,332.0 C298.7,332.3 298.3,332.0 298.0,332.0" />
<path class="ld" d="M369.0,321.0 C369.5,318.8 371.0,311.3 372.0,308.0 C373.0,304.7 373.7,302.3 375.0,301.0 C376.3,299.7 379.2,300.2 380.0,300.0" />
<path class="ld" d="M307.0,392.0 C307.8,389.8 310.5,381.8 312.0,379.0 C313.5,376.2 315.0,375.7 316.0,375.0 C317.0,374.3 317.7,375.0 318.0,375.0" />
<path class="ld" d="M176.0,385.0 C174.3,386.8 168.5,393.6 166.0,396.0 C163.5,398.4 162.3,398.9 161.0,399.5 C159.7,400.1 158.5,399.5 158.0,399.5" />
<path class="ld" d="M409.0,390.0 C410.5,392.5 416.0,401.8 418.0,405.0 C420.0,408.2 420.0,408.3 421.0,409.0 C422.0,409.7 423.5,409.0 424.0,409.0" />
<path class="ld" d="M72.5,494.0 C73.8,491.5 78.1,482.2 80.0,479.0 C81.9,475.8 82.7,475.7 84.0,475.0 C85.3,474.3 87.3,475.0 88.0,475.0" />
<path class="ld" d="M190.0,585.0 C188.7,587.2 184.3,594.8 182.0,598.0 C179.7,601.2 177.7,603.0 176.0,604.0 C174.3,605.0 172.7,604.0 172.0,604.0" />
<path class="ld" d="M422.0,600.0 C423.5,598.0 428.8,590.7 431.0,588.0 C433.2,585.3 433.7,584.8 435.0,584.0 C436.3,583.2 438.3,583.2 439.0,583.0" />
<path class="ld" d="M311.0,497.0 C312.8,498.5 319.3,503.8 322.0,506.0 C324.7,508.2 325.5,509.3 327.0,510.0 C328.5,510.7 330.3,510.0 331.0,510.0" />
<path class="ld" d="M330.0,470.0 C332.0,471.2 338.8,475.3 342.0,477.0 C345.2,478.7 347.3,479.5 349.0,480.0 C350.7,480.5 351.5,480.0 352.0,480.0" />
<path class="ld" d="M232.0,515.0 C230.8,515.0 228.7,515.0 225.0,515.0 C221.3,515.0 212.5,515.0 210.0,515.0" />
<path class="ld" d="M259.0,525.0 C257.2,526.5 251.2,531.7 248.0,534.0 C244.8,536.3 242.3,538.2 240.0,539.0 C237.7,539.8 235.0,539.0 234.0,539.0" />
<path class="ld" d="M497.0,178.0 C495.0,178.2 488.3,178.8 485.0,179.0 C481.7,179.2 478.3,179.0 477.0,179.0" />
<path class="ld" d="M512.0,211.0 C510.7,211.6 506.5,213.5 504.0,214.5 C501.5,215.5 498.2,216.6 497.0,217.0" />
<path class="ld" d="M572.0,180.0 C572.3,178.3 573.3,172.3 574.0,170.0 C574.7,167.7 575.0,166.8 576.0,166.0 C577.0,165.2 579.3,165.2 580.0,165.0" />
<path class="ld" d="M572.0,220.0 C573.3,218.3 577.8,212.5 580.0,210.0 C582.2,207.5 583.5,206.1 585.0,205.0 C586.5,203.9 588.3,203.8 589.0,203.5" />
<path class="ld" d="M572.0,249.0 C573.8,247.8 580.0,243.8 583.0,242.0 C586.0,240.2 588.8,238.7 590.0,238.0" />
<path class="ld" d="M431.0,229.0 C429.2,229.7 423.0,231.9 420.0,233.0 C417.0,234.1 414.2,235.1 413.0,235.5" />
<path class="ld" d="M446.0,279.0 C445.0,281.2 441.8,289.0 440.0,292.0 C438.2,295.0 436.7,296.2 435.0,297.0 C433.3,297.8 430.8,297.0 430.0,297.0" />
<path class="ld" d="M456.5,329.5 C455.1,329.2 450.8,328.0 448.0,327.5 C445.2,327.0 441.3,326.7 440.0,326.5" />
<path class="ld" d="M516.0,354.0 C513.3,356.2 504.8,363.8 500.0,367.0 C495.2,370.2 489.8,371.8 487.0,373.0 C484.2,374.2 483.7,373.8 483.0,374.0" />
<path class="ld" d="M495.0,422.0 C493.3,422.7 487.8,424.7 485.0,426.0 C482.2,427.3 479.8,429.3 478.0,430.0 C476.2,430.7 474.7,430.0 474.0,430.0" />
<path class="ld" d="M546.0,462.0 C544.7,462.8 540.3,465.8 538.0,467.0 C535.7,468.2 533.3,468.7 532.0,469.0 C530.7,469.3 530.3,469.0 530.0,469.0" />
<path class="ld" d="M741.0,261.0 C739.5,260.0 734.7,256.8 732.0,255.0 C729.3,253.2 726.2,250.8 725.0,250.0" />
<path class="ld" d="M686.0,320.0 C685.0,317.8 681.8,310.5 680.0,307.0 C678.2,303.5 676.3,300.5 675.0,299.0 C673.7,297.5 672.5,298.2 672.0,298.0" />
<path class="ld" d="M731.0,319.0 C729.2,316.2 722.8,306.0 720.0,302.0 C717.2,298.0 715.7,296.2 714.0,295.0 C712.3,293.8 710.7,295.0 710.0,295.0" />
<path class="ld" d="M720.0,460.0 C721.2,458.7 724.8,454.2 727.0,452.0 C729.2,449.8 731.7,448.0 733.0,447.0 C734.3,446.0 734.7,446.2 735.0,446.0" />
<path class="ld" d="M694.5,527.0 C695.4,529.7 698.2,537.8 700.0,543.0 C701.8,548.2 703.5,554.9 705.0,558.0 C706.5,561.1 708.3,560.9 709.0,561.5" />
<path class="ld" d="M632.0,525.0 C633.0,526.5 635.8,531.5 638.0,534.0 C640.2,536.5 643.3,539.0 645.0,540.0 C646.7,541.0 647.5,540.0 648.0,540.0" />
<path class="ld" d="M612.0,566.0 C614.2,567.2 620.3,571.0 625.0,573.0 C629.7,575.0 636.7,577.2 640.0,578.0 C643.3,578.8 644.2,578.0 645.0,578.0" />
<path class="ld" d="M551.0,623.0 C549.2,625.5 543.2,634.3 540.0,638.0 C536.8,641.7 534.0,643.8 532.0,645.0 C530.0,646.2 528.7,645.0 528.0,645.0" />
<text x="64" y="162.5">6</text>
<text x="126" y="128.5">6</text>
<text x="210" y="103.5">6</text>
<text x="287" y="122.5">6</text>
<text x="347" y="216.5">5</text>
<text x="292" y="337.5">2</text>
<text x="389" y="306.5">21</text>
<text x="322" y="381.5">4</text>
<text x="151" y="405.5">1</text>
<text x="434" y="415.5">20</text>
<text x="99" y="480.5">19</text>
<text x="160" y="610.5">21</text>
<text x="449" y="588.5">17</text>
<text x="361" y="486.5">3</text>
<text x="337" y="515.5">3</text>
<text x="199" y="520.5">3</text>
<text x="224" y="546.5">3</text>
<text x="468" y="185.5">9</text>
<text x="484" y="222.5">14</text>
<text x="588" y="171.5">12</text>
<text x="597.5" y="208.5">10</text>
<text x="604" y="242.5">11</text>
<text x="406" y="240.5">9</text>
<text x="420" y="303.5">14</text>
<text x="430" y="331.5">12</text>
<text x="474" y="380.5">11</text>
<text x="465" y="436.5">18</text>
<text x="525" y="475.5">7</text>
<text x="715" y="255.5">9</text>
<text x="664" y="302.5">9</text>
<text x="704" y="299.5">8</text>
<text x="743" y="450.5">13</text>
<text x="720" y="567.5">13</text>
<text x="657" y="545.5">15</text>
<text x="654" y="583.5">15</text>
<text x="517" y="650.5">16</text>
</svg></body></html>
